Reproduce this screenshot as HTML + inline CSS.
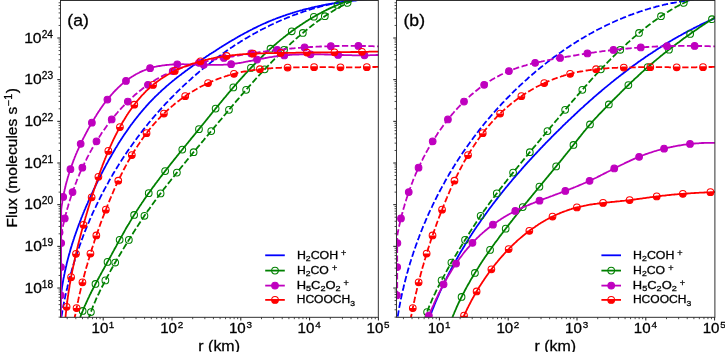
<!DOCTYPE html><html><head><meta charset="utf-8"><style>html,body{margin:0;padding:0;background:#fff;}svg{display:block;}#w{will-change:transform;width:725px;height:352px;}</style></head><body>
<div id="w"><svg width="725" height="352" viewBox="0 0 725 352">
<rect width="725" height="352" fill="#fff"/>
<clipPath id="ca"><rect x="60.50" y="0.50" width="317.80" height="316.80"/></clipPath>
<g clip-path="url(#ca)">
<path d="M59.3,321.9 L59.4,320.7 L59.4,319.5 L59.4,318.3 L59.4,317.1 L59.4,315.9 L59.5,314.7 L59.5,313.5 L59.6,312.3 L59.6,311.1 L59.7,309.9 L59.8,308.7 L59.9,307.6 L59.9,306.4 L60.0,305.2 L60.1,304.0 L60.2,302.8 L60.3,301.6 L60.4,300.4 L60.6,299.2 L60.7,298.0 L60.8,296.9 L60.9,295.7 L61.1,294.5 L61.2,293.3 L61.4,292.1 L61.5,290.9 L61.7,289.8 L61.9,288.6 L62.0,287.4 L62.2,286.2 L62.4,285.1 L62.6,283.9 L62.8,282.7 L63.0,281.5 L63.2,280.4 L63.4,279.2 L63.6,278.0 L63.9,276.9 L64.1,275.7 L64.3,274.5 L64.6,273.4 L64.8,272.2 L65.0,271.0 L65.3,269.9 L65.6,268.7 L65.8,267.5 L66.1,266.4 L66.4,265.2 L66.6,264.1 L66.9,262.9 L67.2,261.7 L67.5,260.6 L67.8,259.4 L68.1,258.3 L68.4,257.1 L68.7,256.0 L69.0,254.8 L69.3,253.7 L69.7,252.5 L70.0,251.4 L70.3,250.2 L70.6,249.1 L71.0,247.9 L71.3,246.8 L71.7,245.6 L72.0,244.5 L72.4,243.4 L72.7,242.2 L73.1,241.1 L73.5,239.9 L73.9,238.8 L74.2,237.7 L74.6,236.5 L75.0,235.4 L75.4,234.3 L75.8,233.1 L76.2,232.0 L76.6,230.9 L77.0,229.7 L77.4,228.6 L77.8,227.5 L78.2,226.4 L78.6,225.2 L79.0,224.1 L79.5,223.0 L79.9,221.9 L80.3,220.8 L80.8,219.6 L81.2,218.5 L81.6,217.4 L82.1,216.3 L82.5,215.2 L83.0,214.0 L83.4,212.9 L83.9,211.8 L84.3,210.7 L84.8,209.6 L85.3,208.5 L85.7,207.4 L86.2,206.3 L86.7,205.2 L87.2,204.1 L87.7,203.0 L88.1,201.9 L88.6,200.8 L89.1,199.7 L89.6,198.6 L90.1,197.5 L90.6,196.4 L91.1,195.3 L91.6,194.2 L92.1,193.1 L92.6,192.0 L93.1,190.9 L93.6,189.8 L94.1,188.7 L94.7,187.6 L95.2,186.5 L95.7,185.5 L96.2,184.4 L96.7,183.3 L97.3,182.2 L97.8,181.1 L98.3,180.1 L98.9,179.0 L99.4,177.9 L100.0,176.8 L100.5,175.7 L101.0,174.7 L101.6,173.6 L102.1,172.5 L102.7,171.5 L103.2,170.4 L103.8,169.3 L104.4,168.3 L104.9,167.2 L105.5,166.1 L106.0,165.1 L106.6,164.0 L107.2,163.0 L107.8,161.9 L108.3,160.9 L108.9,159.8 L109.5,158.8 L110.1,157.7 L110.7,156.7 L111.3,155.7 L111.9,154.6 L112.5,153.6 L113.1,152.5 L113.7,151.5 L114.3,150.5 L114.9,149.5 L115.5,148.4 L116.1,147.4 L116.8,146.4 L117.4,145.4 L118.0,144.4 L118.6,143.3 L119.3,142.3 L119.9,141.3 L120.6,140.3 L121.2,139.3 L121.9,138.3 L122.5,137.3 L123.2,136.3 L123.8,135.3 L124.5,134.3 L125.2,133.4 L125.8,132.4 L126.5,131.4 L127.2,130.4 L127.9,129.5 L128.5,128.5 L129.2,127.5 L129.9,126.6 L130.6,125.6 L131.3,124.6 L132.0,123.7 L132.7,122.7 L133.5,121.8 L134.2,120.8 L134.9,119.9 L135.6,119.0 L136.4,118.0 L137.1,117.1 L137.8,116.2 L138.6,115.2 L139.3,114.3 L140.1,113.4 L140.8,112.5 L141.6,111.6 L142.4,110.7 L143.1,109.8 L143.9,108.9 L144.7,108.0 L145.5,107.1 L146.2,106.2 L147.0,105.3 L147.8,104.5 L148.6,103.6 L149.4,102.7 L150.2,101.9 L151.1,101.0 L151.9,100.1 L152.7,99.3 L153.5,98.4 L154.4,97.6 L155.2,96.7 L156.1,95.9 L156.9,95.1 L157.8,94.3 L158.6,93.4 L159.5,92.6 L160.4,91.8 L161.2,91.0 L162.1,90.2 L163.0,89.4 L163.9,88.6 L164.8,87.8 L165.7,87.0 L166.6,86.2 L167.5,85.4 L168.4,84.7 L169.3,83.9 L170.2,83.1 L171.1,82.4 L172.0,81.6 L173.0,80.8 L173.9,80.1 L174.8,79.3 L175.8,78.6 L176.7,77.8 L177.7,77.1 L178.6,76.4 L179.6,75.6 L180.5,74.9 L181.5,74.2 L182.4,73.4 L183.4,72.7 L184.4,72.0 L185.3,71.3 L186.3,70.6 L187.3,69.9 L188.2,69.1 L189.2,68.4 L190.2,67.7 L191.2,67.0 L192.2,66.3 L193.1,65.6 L194.1,64.9 L195.1,64.3 L196.1,63.6 L197.1,62.9 L198.1,62.2 L199.1,61.5 L200.1,60.8 L201.1,60.2 L202.1,59.5 L203.1,58.8 L204.1,58.1 L205.1,57.5 L206.1,56.8 L207.1,56.1 L208.1,55.5 L209.1,54.8 L210.1,54.1 L211.1,53.5 L212.2,52.8 L213.2,52.2 L214.2,51.5 L215.2,50.9 L216.2,50.2 L217.2,49.6 L218.2,48.9 L219.2,48.3 L220.3,47.6 L221.3,47.0 L222.3,46.3 L223.3,45.7 L224.3,45.1 L225.4,44.4 L226.4,43.8 L227.4,43.2 L228.4,42.6 L229.4,41.9 L230.5,41.3 L231.5,40.7 L232.5,40.1 L233.6,39.5 L234.6,38.9 L235.6,38.3 L236.7,37.7 L237.7,37.1 L238.7,36.5 L239.8,35.9 L240.8,35.3 L241.9,34.8 L242.9,34.2 L244.0,33.6 L245.0,33.0 L246.1,32.5 L247.1,31.9 L248.2,31.4 L249.2,30.8 L250.3,30.3 L251.3,29.7 L252.4,29.2 L253.4,28.6 L254.5,28.1 L255.6,27.6 L256.6,27.1 L257.7,26.5 L258.8,26.0 L259.9,25.5 L260.9,25.0 L262.0,24.5 L263.1,24.0 L264.2,23.5 L265.3,23.1 L266.3,22.6 L267.4,22.1 L268.5,21.6 L269.6,21.2 L270.7,20.7 L271.8,20.3 L272.9,19.8 L274.0,19.4 L275.1,19.0 L276.2,18.5 L277.3,18.1 L278.5,17.7 L279.6,17.3 L280.7,16.9 L281.8,16.5 L282.9,16.1 L284.0,15.7 L285.2,15.3 L286.3,14.9 L287.4,14.5 L288.6,14.1 L289.7,13.8 L290.8,13.4 L292.0,13.1 L293.1,12.7 L294.2,12.4 L295.4,12.0 L296.5,11.7 L297.7,11.3 L298.8,11.0 L300.0,10.7 L301.1,10.4 L302.3,10.1 L303.4,9.7 L304.6,9.4 L305.7,9.1 L306.9,8.8 L308.0,8.6 L309.2,8.3 L310.4,8.0 L311.5,7.7 L312.7,7.4 L313.8,7.2 L315.0,6.9 L316.2,6.6 L317.4,6.4 L318.5,6.1 L319.7,5.9 L320.9,5.7 L322.0,5.4 L323.2,5.2 L324.4,5.0 L325.6,4.7 L326.8,4.5 L327.9,4.3 L329.1,4.1 L330.3,3.9 L331.5,3.7 L332.7,3.5 L333.9,3.3 L335.0,3.1 L336.2,2.9 L337.4,2.7 L338.6,2.5 L339.8,2.4 L341.0,2.2 L342.2,2.0 L343.4,1.9 L344.6,1.7 L345.8,1.6 L347.0,1.4 L348.1,1.3 L349.3,1.1 L350.5,1.0 L351.7,0.8 L352.9,0.7 L354.1,0.6 L355.3,0.5 L356.5,0.3 L357.7,0.2 L358.9,0.1 L360.1,0.0 L361.3,-0.1 L362.5,-0.2 L363.7,-0.3 L364.9,-0.4 L366.1,-0.5" fill="none" stroke="#0000ff" stroke-width="1.8" stroke-linejoin="round" stroke-linecap="square"/>
<path d="M61.5,316.6 L61.7,315.4 L61.9,314.3 L62.1,313.1 L62.3,311.9 L62.5,310.7 L62.7,309.5 L62.9,308.3 L63.1,307.2 L63.3,306.0 L63.6,304.8 L63.8,303.6 L64.0,302.4 L64.3,301.3 L64.5,300.1 L64.7,298.9 L65.0,297.7 L65.2,296.6 L65.5,295.4 L65.7,294.2 L66.0,293.1 L66.3,291.9 L66.5,290.7 L66.8,289.5 L67.1,288.4 L67.4,287.2 L67.6,286.0 L67.9,284.9 L68.2,283.7 L68.5,282.5 L68.8,281.4 L69.1,280.2 L69.4,279.1 L69.7,277.9 L70.0,276.7 L70.3,275.6 L70.6,274.4 L70.9,273.3 L71.3,272.1 L71.6,271.0 L71.9,269.8 L72.2,268.7 L72.6,267.5 L72.9,266.4 L73.3,265.2 L73.6,264.1 L73.9,262.9 L74.3,261.8 L74.7,260.6 L75.0,259.5 L75.4,258.3 L75.7,257.2 L76.1,256.1 L76.5,254.9 L76.9,253.8 L77.2,252.6 L77.6,251.5 L78.0,250.4 L78.4,249.2 L78.8,248.1 L79.2,247.0 L79.6,245.8 L80.0,244.7 L80.4,243.6 L80.8,242.5 L81.2,241.3 L81.6,240.2 L82.0,239.1 L82.5,238.0 L82.9,236.8 L83.3,235.7 L83.7,234.6 L84.2,233.5 L84.6,232.4 L85.0,231.3 L85.5,230.1 L85.9,229.0 L86.4,227.9 L86.8,226.8 L87.3,225.7 L87.8,224.6 L88.2,223.5 L88.7,222.4 L89.2,221.3 L89.6,220.2 L90.1,219.1 L90.6,218.0 L91.1,216.9 L91.6,215.8 L92.0,214.7 L92.5,213.6 L93.0,212.5 L93.5,211.4 L94.0,210.4 L94.5,209.3 L95.0,208.2 L95.6,207.1 L96.1,206.0 L96.6,204.9 L97.1,203.9 L97.6,202.8 L98.2,201.7 L98.7,200.6 L99.2,199.6 L99.8,198.5 L100.3,197.4 L100.8,196.4 L101.4,195.3 L101.9,194.2 L102.5,193.2 L103.0,192.1 L103.6,191.0 L104.2,190.0 L104.7,188.9 L105.3,187.9 L105.9,186.8 L106.4,185.8 L107.0,184.7 L107.6,183.7 L108.2,182.6 L108.7,181.6 L109.3,180.5 L109.9,179.5 L110.5,178.5 L111.1,177.4 L111.7,176.4 L112.3,175.4 L112.9,174.3 L113.5,173.3 L114.1,172.3 L114.8,171.2 L115.4,170.2 L116.0,169.2 L116.6,168.2 L117.3,167.1 L117.9,166.1 L118.5,165.1 L119.2,164.1 L119.8,163.1 L120.4,162.1 L121.1,161.1 L121.7,160.1 L122.4,159.1 L123.0,158.1 L123.7,157.1 L124.3,156.1 L125.0,155.1 L125.7,154.1 L126.3,153.1 L127.0,152.1 L127.7,151.1 L128.4,150.1 L129.0,149.1 L129.7,148.1 L130.4,147.2 L131.1,146.2 L131.8,145.2 L132.5,144.2 L133.2,143.3 L133.9,142.3 L134.6,141.3 L135.3,140.4 L136.0,139.4 L136.7,138.4 L137.4,137.5 L138.1,136.5 L138.9,135.6 L139.6,134.6 L140.3,133.7 L141.0,132.7 L141.8,131.8 L142.5,130.8 L143.2,129.9 L144.0,128.9 L144.7,128.0 L145.5,127.1 L146.2,126.1 L147.0,125.2 L147.7,124.3 L148.5,123.3 L149.2,122.4 L150.0,121.5 L150.8,120.6 L151.5,119.7 L152.3,118.7 L153.1,117.8 L153.9,116.9 L154.6,116.0 L155.4,115.1 L156.2,114.2 L157.0,113.3 L157.8,112.4 L158.6,111.5 L159.4,110.6 L160.2,109.7 L161.0,108.8 L161.8,107.9 L162.6,107.1 L163.4,106.2 L164.2,105.3 L165.0,104.4 L165.8,103.5 L166.6,102.7 L167.5,101.8 L168.3,100.9 L169.1,100.1 L169.9,99.2 L170.8,98.3 L171.6,97.5 L172.5,96.6 L173.3,95.8 L174.1,94.9 L175.0,94.1 L175.8,93.2 L176.7,92.4 L177.5,91.5 L178.4,90.7 L179.3,89.9 L180.1,89.0 L181.0,88.2 L181.8,87.4 L182.7,86.6 L183.6,85.7 L184.5,84.9 L185.3,84.1 L186.2,83.3 L187.1,82.5 L188.0,81.7 L188.9,80.9 L189.8,80.1 L190.7,79.3 L191.5,78.5 L192.4,77.7 L193.3,76.9 L194.2,76.1 L195.2,75.3 L196.1,74.5 L197.0,73.7 L197.9,73.0 L198.8,72.2 L199.7,71.4 L200.6,70.7 L201.6,69.9 L202.5,69.1 L203.4,68.4 L204.3,67.6 L205.3,66.8 L206.2,66.1 L207.1,65.3 L208.1,64.6 L209.0,63.9 L210.0,63.1 L210.9,62.4 L211.9,61.6 L212.8,60.9 L213.8,60.2 L214.7,59.5 L215.7,58.7 L216.7,58.0 L217.6,57.3 L218.6,56.6 L219.6,55.9 L220.5,55.2 L221.5,54.5 L222.5,53.8 L223.5,53.1 L224.4,52.4 L225.4,51.7 L226.4,51.0 L227.4,50.3 L228.4,49.6 L229.4,49.0 L230.4,48.3 L231.4,47.6 L232.4,47.0 L233.4,46.3 L234.4,45.6 L235.4,45.0 L236.4,44.3 L237.4,43.7 L238.4,43.0 L239.4,42.4 L240.4,41.8 L241.4,41.1 L242.5,40.5 L243.5,39.9 L244.5,39.3 L245.5,38.6 L246.6,38.0 L247.6,37.4 L248.6,36.8 L249.7,36.2 L250.7,35.6 L251.7,35.0 L252.8,34.4 L253.8,33.8 L254.9,33.3 L255.9,32.7 L257.0,32.1 L258.0,31.5 L259.1,31.0 L260.1,30.4 L261.2,29.8 L262.3,29.3 L263.3,28.7 L264.4,28.2 L265.4,27.7 L266.5,27.1 L267.6,26.6 L268.7,26.1 L269.7,25.5 L270.8,25.0 L271.9,24.5 L273.0,24.0 L274.0,23.5 L275.1,23.0 L276.2,22.5 L277.3,22.0 L278.4,21.5 L279.5,21.0 L280.6,20.5 L281.7,20.0 L282.8,19.6 L283.9,19.1 L285.0,18.7 L286.1,18.2 L287.2,17.7 L288.3,17.3 L289.4,16.9 L290.5,16.4 L291.6,16.0 L292.7,15.5 L293.8,15.1 L294.9,14.7 L296.1,14.3 L297.2,13.9 L298.3,13.5 L299.4,13.1 L300.5,12.7 L301.7,12.3 L302.8,11.9 L303.9,11.5 L305.1,11.2 L306.2,10.8 L307.3,10.4 L308.5,10.1 L309.6,9.7 L310.7,9.4 L311.9,9.0 L313.0,8.7 L314.2,8.3 L315.3,8.0 L316.5,7.7 L317.6,7.4 L318.8,7.1 L319.9,6.7 L321.1,6.4 L322.2,6.2 L323.4,5.9 L324.5,5.6 L325.7,5.3 L326.9,5.0 L328.0,4.7 L329.2,4.5 L330.4,4.2 L331.5,4.0 L332.7,3.7 L333.9,3.5 L335.0,3.2 L336.2,3.0 L337.4,2.8 L338.6,2.6 L339.7,2.4 L340.9,2.1 L342.1,1.9 L343.3,1.7 L344.5,1.6 L345.7,1.4 L346.8,1.2 L348.0,1.0 L349.2,0.9 L350.4,0.7 L351.6,0.5 L352.8,0.4 L354.0,0.2 L355.2,0.1 L356.4,-0.0 L357.6,-0.2 L358.8,-0.3 L360.0,-0.4 L361.2,-0.5 L362.4,-0.6 L363.6,-0.7 L364.8,-0.8 L366.0,-0.9" fill="none" stroke="#0000ff" stroke-width="1.8" stroke-linejoin="round" stroke-linecap="butt" stroke-dasharray="6.3 2.5"/>
<path d="M79.3,320.0 L79.7,318.8 L80.1,317.7 L80.5,316.6 L80.9,315.4 L81.3,314.3 L81.8,313.2 L82.2,312.1 L82.7,311.0 L83.1,309.9 L83.6,308.7 L84.0,307.6 L84.5,306.5 L85.0,305.4 L85.5,304.4 L86.0,303.3 L86.5,302.2 L87.0,301.1 L87.5,300.0 L88.0,298.9 L88.5,297.8 L89.0,296.8 L89.5,295.7 L90.0,294.6 L90.6,293.5 L91.1,292.5 L91.6,291.4 L92.2,290.3 L92.7,289.3 L93.3,288.2 L93.8,287.2 L94.4,286.1 L94.9,285.0 L95.5,284.0 L96.0,282.9 L96.6,281.9 L97.2,280.8 L97.7,279.8 L98.3,278.7 L98.9,277.7 L99.4,276.6 L100.0,275.6 L100.6,274.5 L101.2,273.5 L101.7,272.4 L102.3,271.4 L102.9,270.3 L103.5,269.3 L104.1,268.2 L104.6,267.2 L105.2,266.1 L105.8,265.1 L106.4,264.0 L106.9,263.0 L107.5,261.9 L108.1,260.9 L108.7,259.8 L109.3,258.8 L109.8,257.7 L110.4,256.7 L111.0,255.6 L111.6,254.6 L112.1,253.5 L112.7,252.5 L113.3,251.4 L113.9,250.4 L114.4,249.3 L115.0,248.2 L115.6,247.2 L116.2,246.1 L116.7,245.1 L117.3,244.0 L117.9,243.0 L118.5,241.9 L119.1,240.9 L119.6,239.8 L120.2,238.8 L120.8,237.7 L121.4,236.7 L122.0,235.6 L122.6,234.6 L123.2,233.5 L123.8,232.5 L124.4,231.5 L124.9,230.4 L125.5,229.4 L126.1,228.3 L126.7,227.3 L127.3,226.3 L127.9,225.2 L128.6,224.2 L129.2,223.2 L129.8,222.1 L130.4,221.1 L131.0,220.1 L131.6,219.0 L132.2,218.0 L132.9,217.0 L133.5,216.0 L134.1,215.0 L134.8,214.0 L135.4,212.9 L136.0,211.9 L136.7,210.9 L137.3,209.9 L138.0,208.9 L138.6,207.9 L139.3,206.9 L139.9,205.9 L140.6,204.9 L141.3,203.9 L141.9,202.9 L142.6,202.0 L143.3,201.0 L143.9,200.0 L144.6,199.0 L145.3,198.0 L146.0,197.0 L146.7,196.1 L147.3,195.1 L148.0,194.1 L148.7,193.1 L149.4,192.2 L150.1,191.2 L150.8,190.2 L151.5,189.3 L152.2,188.3 L152.9,187.3 L153.6,186.4 L154.3,185.4 L155.0,184.4 L155.7,183.5 L156.5,182.5 L157.2,181.6 L157.9,180.6 L158.6,179.7 L159.3,178.7 L160.0,177.8 L160.8,176.8 L161.5,175.9 L162.2,174.9 L162.9,174.0 L163.7,173.0 L164.4,172.1 L165.1,171.1 L165.9,170.2 L166.6,169.2 L167.3,168.3 L168.1,167.4 L168.8,166.4 L169.6,165.5 L170.3,164.5 L171.0,163.6 L171.8,162.7 L172.5,161.7 L173.3,160.8 L174.0,159.9 L174.8,158.9 L175.5,158.0 L176.3,157.1 L177.0,156.1 L177.8,155.2 L178.5,154.3 L179.3,153.3 L180.0,152.4 L180.8,151.5 L181.5,150.5 L182.3,149.6 L183.0,148.7 L183.8,147.7 L184.6,146.8 L185.3,145.9 L186.1,145.0 L186.8,144.0 L187.6,143.1 L188.3,142.2 L189.1,141.2 L189.9,140.3 L190.6,139.4 L191.4,138.4 L192.1,137.5 L192.9,136.6 L193.7,135.7 L194.4,134.7 L195.2,133.8 L195.9,132.9 L196.7,131.9 L197.5,131.0 L198.2,130.1 L199.0,129.1 L199.7,128.2 L200.5,127.3 L201.2,126.3 L202.0,125.4 L202.8,124.5 L203.5,123.5 L204.3,122.6 L205.0,121.7 L205.8,120.7 L206.5,119.8 L207.3,118.9 L208.0,117.9 L208.8,117.0 L209.6,116.1 L210.3,115.1 L211.1,114.2 L211.8,113.3 L212.6,112.3 L213.3,111.4 L214.1,110.5 L214.9,109.6 L215.6,108.6 L216.4,107.7 L217.1,106.8 L217.9,105.8 L218.7,104.9 L219.4,104.0 L220.2,103.0 L221.0,102.1 L221.7,101.2 L222.5,100.3 L223.3,99.3 L224.0,98.4 L224.8,97.5 L225.6,96.6 L226.3,95.7 L227.1,94.7 L227.9,93.8 L228.6,92.9 L229.4,92.0 L230.2,91.1 L231.0,90.2 L231.8,89.3 L232.5,88.3 L233.3,87.4 L234.1,86.5 L234.9,85.6 L235.7,84.7 L236.5,83.8 L237.2,82.9 L238.0,82.0 L238.8,81.1 L239.6,80.2 L240.4,79.3 L241.2,78.4 L242.0,77.6 L242.8,76.7 L243.6,75.8 L244.4,74.9 L245.2,74.0 L246.0,73.1 L246.8,72.3 L247.7,71.4 L248.5,70.5 L249.3,69.6 L250.1,68.8 L250.9,67.9 L251.8,67.0 L252.6,66.2 L253.4,65.3 L254.2,64.5 L255.1,63.6 L255.9,62.7 L256.7,61.9 L257.6,61.1 L258.4,60.2 L259.3,59.4 L260.1,58.5 L261.0,57.7 L261.8,56.9 L262.7,56.0 L263.5,55.2 L264.4,54.4 L265.3,53.6 L266.1,52.7 L267.0,51.9 L267.9,51.1 L268.7,50.3 L269.6,49.5 L270.5,48.7 L271.4,47.9 L272.3,47.1 L273.2,46.3 L274.1,45.5 L275.0,44.7 L275.9,44.0 L276.8,43.2 L277.7,42.4 L278.6,41.6 L279.5,40.9 L280.4,40.1 L281.3,39.4 L282.3,38.6 L283.2,37.9 L284.1,37.1 L285.1,36.4 L286.0,35.6 L286.9,34.9 L287.9,34.2 L288.8,33.4 L289.8,32.7 L290.8,32.0 L291.7,31.3 L292.7,30.6 L293.7,29.9 L294.6,29.2 L295.6,28.5 L296.6,27.8 L297.6,27.1 L298.6,26.4 L299.6,25.7 L300.6,25.0 L301.6,24.4 L302.6,23.7 L303.6,23.1 L304.6,22.4 L305.6,21.8 L306.6,21.1 L307.7,20.5 L308.7,19.8 L309.7,19.2 L310.7,18.6 L311.8,18.0 L312.8,17.4 L313.9,16.8 L314.9,16.2 L315.9,15.6 L317.0,15.0 L318.1,14.4 L319.1,13.8 L320.2,13.2 L321.2,12.7 L322.3,12.1 L323.4,11.6 L324.4,11.0 L325.5,10.5 L326.6,9.9 L327.7,9.4 L328.7,8.9 L329.8,8.4 L330.9,7.9 L332.0,7.4 L333.1,6.9 L334.2,6.4 L335.3,5.9 L336.4,5.4 L337.5,5.0 L338.6,4.5 L339.7,4.0 L340.8,3.6 L341.9,3.2 L343.0,2.7 L344.2,2.3 L345.3,1.9 L346.4,1.5 L347.5,1.1 L348.6,0.7 L349.8,0.3 L350.9,-0.1 L352.0,-0.5 L353.2,-0.8 L354.3,-1.2 L355.4,-1.5 L356.6,-1.9 L357.7,-2.2 L358.9,-2.5 L360.0,-2.9" fill="none" stroke="#008000" stroke-width="1.8" stroke-linejoin="round" stroke-linecap="square"/>
<circle cx="82.66" cy="310.96" r="3.35" fill="none" stroke="#008000" stroke-width="1.05"/>
<circle cx="95.47" cy="283.98" r="3.35" fill="none" stroke="#008000" stroke-width="1.05"/>
<circle cx="107.53" cy="261.93" r="3.35" fill="none" stroke="#008000" stroke-width="1.05"/>
<circle cx="119.65" cy="239.83" r="3.35" fill="none" stroke="#008000" stroke-width="1.05"/>
<circle cx="134.13" cy="214.97" r="3.35" fill="none" stroke="#008000" stroke-width="1.05"/>
<circle cx="148.72" cy="193.13" r="3.35" fill="none" stroke="#008000" stroke-width="1.05"/>
<circle cx="165.14" cy="171.12" r="3.35" fill="none" stroke="#008000" stroke-width="1.05"/>
<circle cx="182.29" cy="149.60" r="3.35" fill="none" stroke="#008000" stroke-width="1.05"/>
<circle cx="198.97" cy="129.14" r="3.35" fill="none" stroke="#008000" stroke-width="1.05"/>
<circle cx="215.62" cy="108.62" r="3.35" fill="none" stroke="#008000" stroke-width="1.05"/>
<circle cx="233.32" cy="87.44" r="3.35" fill="none" stroke="#008000" stroke-width="1.05"/>
<circle cx="250.93" cy="67.90" r="3.35" fill="none" stroke="#008000" stroke-width="1.05"/>
<circle cx="270.50" cy="48.70" r="3.35" fill="none" stroke="#008000" stroke-width="1.05"/>
<circle cx="291.73" cy="31.27" r="3.35" fill="none" stroke="#008000" stroke-width="1.05"/>
<circle cx="313.85" cy="16.75" r="3.35" fill="none" stroke="#008000" stroke-width="1.05"/>
<circle cx="337.50" cy="4.95" r="3.35" fill="none" stroke="#008000" stroke-width="1.05"/>
<path d="M88.2,319.9 L88.6,318.8 L89.0,317.7 L89.3,316.5 L89.7,315.4 L90.1,314.3 L90.5,313.1 L90.9,312.0 L91.3,310.9 L91.7,309.8 L92.2,308.6 L92.6,307.5 L93.0,306.4 L93.5,305.3 L94.0,304.2 L94.4,303.1 L94.9,302.0 L95.4,300.9 L95.8,299.8 L96.3,298.7 L96.8,297.6 L97.3,296.5 L97.8,295.4 L98.4,294.3 L98.9,293.3 L99.4,292.2 L99.9,291.1 L100.4,290.0 L101.0,288.9 L101.5,287.9 L102.1,286.8 L102.6,285.7 L103.2,284.7 L103.7,283.6 L104.3,282.5 L104.8,281.5 L105.4,280.4 L105.9,279.3 L106.5,278.3 L107.1,277.2 L107.6,276.1 L108.2,275.1 L108.8,274.0 L109.3,273.0 L109.9,271.9 L110.5,270.9 L111.1,269.8 L111.7,268.8 L112.2,267.7 L112.8,266.7 L113.4,265.6 L114.0,264.6 L114.6,263.5 L115.2,262.5 L115.8,261.5 L116.4,260.4 L117.0,259.4 L117.6,258.4 L118.2,257.3 L118.8,256.3 L119.5,255.3 L120.1,254.2 L120.7,253.2 L121.3,252.2 L121.9,251.2 L122.6,250.1 L123.2,249.1 L123.8,248.1 L124.4,247.1 L125.1,246.1 L125.7,245.0 L126.3,244.0 L126.9,243.0 L127.6,242.0 L128.2,241.0 L128.8,239.9 L129.5,238.9 L130.1,237.9 L130.7,236.9 L131.4,235.9 L132.0,234.9 L132.7,233.8 L133.3,232.8 L133.9,231.8 L134.6,230.8 L135.2,229.8 L135.9,228.8 L136.5,227.8 L137.2,226.8 L137.8,225.8 L138.5,224.8 L139.1,223.8 L139.8,222.7 L140.4,221.7 L141.1,220.7 L141.8,219.7 L142.4,218.8 L143.1,217.8 L143.8,216.8 L144.4,215.8 L145.1,214.8 L145.8,213.8 L146.5,212.8 L147.2,211.8 L147.8,210.8 L148.5,209.9 L149.2,208.9 L149.9,207.9 L150.6,206.9 L151.3,205.9 L152.0,205.0 L152.7,204.0 L153.4,203.0 L154.1,202.1 L154.8,201.1 L155.6,200.1 L156.3,199.2 L157.0,198.2 L157.7,197.2 L158.4,196.3 L159.1,195.3 L159.9,194.3 L160.6,193.4 L161.3,192.4 L162.0,191.5 L162.8,190.5 L163.5,189.6 L164.2,188.6 L165.0,187.7 L165.7,186.7 L166.4,185.8 L167.2,184.8 L167.9,183.9 L168.7,182.9 L169.4,182.0 L170.2,181.1 L170.9,180.1 L171.6,179.2 L172.4,178.2 L173.1,177.3 L173.9,176.4 L174.6,175.4 L175.4,174.5 L176.1,173.6 L176.9,172.6 L177.6,171.7 L178.4,170.8 L179.2,169.8 L179.9,168.9 L180.7,168.0 L181.4,167.0 L182.2,166.1 L182.9,165.2 L183.7,164.2 L184.5,163.3 L185.2,162.4 L186.0,161.5 L186.7,160.5 L187.5,159.6 L188.3,158.7 L189.0,157.8 L189.8,156.8 L190.6,155.9 L191.3,155.0 L192.1,154.1 L192.8,153.1 L193.6,152.2 L194.4,151.3 L195.1,150.4 L195.9,149.5 L196.7,148.5 L197.4,147.6 L198.2,146.7 L199.0,145.8 L199.7,144.9 L200.5,143.9 L201.3,143.0 L202.0,142.1 L202.8,141.2 L203.6,140.3 L204.3,139.3 L205.1,138.4 L205.9,137.5 L206.7,136.6 L207.4,135.7 L208.2,134.7 L209.0,133.8 L209.7,132.9 L210.5,132.0 L211.3,131.1 L212.0,130.1 L212.8,129.2 L213.6,128.3 L214.3,127.4 L215.1,126.4 L215.9,125.5 L216.6,124.6 L217.4,123.7 L218.2,122.8 L218.9,121.8 L219.7,120.9 L220.5,120.0 L221.3,119.1 L222.0,118.2 L222.8,117.2 L223.6,116.3 L224.3,115.4 L225.1,114.5 L225.9,113.5 L226.6,112.6 L227.4,111.7 L228.2,110.8 L229.0,109.9 L229.7,108.9 L230.5,108.0 L231.3,107.1 L232.1,106.2 L232.8,105.3 L233.6,104.4 L234.4,103.4 L235.2,102.5 L235.9,101.6 L236.7,100.7 L237.5,99.8 L238.3,98.9 L239.1,98.0 L239.8,97.1 L240.6,96.1 L241.4,95.2 L242.2,94.3 L243.0,93.4 L243.8,92.5 L244.6,91.6 L245.3,90.7 L246.1,89.8 L246.9,88.9 L247.7,88.0 L248.5,87.1 L249.3,86.2 L250.1,85.3 L250.9,84.4 L251.7,83.5 L252.5,82.6 L253.3,81.7 L254.1,80.8 L254.9,79.9 L255.7,79.0 L256.5,78.1 L257.3,77.3 L258.1,76.4 L258.9,75.5 L259.7,74.6 L260.6,73.7 L261.4,72.8 L262.2,72.0 L263.0,71.1 L263.8,70.2 L264.7,69.3 L265.5,68.5 L266.3,67.6 L267.1,66.7 L268.0,65.9 L268.8,65.0 L269.6,64.1 L270.5,63.3 L271.3,62.4 L272.1,61.6 L273.0,60.7 L273.8,59.9 L274.6,59.0 L275.5,58.2 L276.3,57.3 L277.2,56.5 L278.0,55.6 L278.9,54.8 L279.7,53.9 L280.6,53.1 L281.5,52.3 L282.3,51.4 L283.2,50.6 L284.1,49.8 L284.9,49.0 L285.8,48.1 L286.7,47.3 L287.5,46.5 L288.4,45.7 L289.3,44.9 L290.2,44.1 L291.1,43.2 L292.0,42.4 L292.9,41.6 L293.7,40.8 L294.6,40.0 L295.5,39.2 L296.4,38.4 L297.3,37.7 L298.2,36.9 L299.2,36.1 L300.1,35.3 L301.0,34.5 L301.9,33.7 L302.8,33.0 L303.7,32.2 L304.7,31.4 L305.6,30.7 L306.5,29.9 L307.5,29.2 L308.4,28.4 L309.3,27.6 L310.3,26.9 L311.2,26.2 L312.2,25.4 L313.1,24.7 L314.1,24.0 L315.0,23.2 L316.0,22.5 L317.0,21.8 L317.9,21.1 L318.9,20.4 L319.9,19.7 L320.9,19.0 L321.8,18.3 L322.8,17.6 L323.8,16.9 L324.8,16.2 L325.8,15.6 L326.8,14.9 L327.8,14.2 L328.8,13.6 L329.8,12.9 L330.8,12.3 L331.9,11.7 L332.9,11.0 L333.9,10.4 L334.9,9.8 L336.0,9.2 L337.0,8.6 L338.0,8.0 L339.1,7.4 L340.1,6.8 L341.2,6.3 L342.2,5.7 L343.3,5.1 L344.4,4.6 L345.4,4.0 L346.5,3.5 L347.6,3.0 L348.7,2.5 L349.8,2.0 L350.9,1.5 L351.9,1.0 L353.0,0.5 L354.2,0.0 L355.3,-0.4 L356.4,-0.9 L357.5,-1.3 L358.6,-1.8 L359.7,-2.2 L360.9,-2.6 L362.0,-3.0" fill="none" stroke="#008000" stroke-width="1.8" stroke-linejoin="round" stroke-linecap="butt" stroke-dasharray="6.3 2.5"/>
<circle cx="90.90" cy="312.00" r="3.35" fill="none" stroke="#008000" stroke-width="1.05"/>
<circle cx="105.37" cy="280.39" r="3.35" fill="none" stroke="#008000" stroke-width="1.05"/>
<circle cx="115.21" cy="262.51" r="3.35" fill="none" stroke="#008000" stroke-width="1.05"/>
<circle cx="128.84" cy="239.94" r="3.35" fill="none" stroke="#008000" stroke-width="1.05"/>
<circle cx="144.44" cy="215.77" r="3.35" fill="none" stroke="#008000" stroke-width="1.05"/>
<circle cx="160.59" cy="193.39" r="3.35" fill="none" stroke="#008000" stroke-width="1.05"/>
<circle cx="176.89" cy="172.62" r="3.35" fill="none" stroke="#008000" stroke-width="1.05"/>
<circle cx="193.61" cy="152.23" r="3.35" fill="none" stroke="#008000" stroke-width="1.05"/>
<circle cx="211.26" cy="131.06" r="3.35" fill="none" stroke="#008000" stroke-width="1.05"/>
<circle cx="228.96" cy="109.87" r="3.35" fill="none" stroke="#008000" stroke-width="1.05"/>
<circle cx="246.13" cy="89.80" r="3.35" fill="none" stroke="#008000" stroke-width="1.05"/>
<circle cx="264.65" cy="69.35" r="3.35" fill="none" stroke="#008000" stroke-width="1.05"/>
<circle cx="284.06" cy="49.78" r="3.35" fill="none" stroke="#008000" stroke-width="1.05"/>
<circle cx="302.82" cy="32.97" r="3.35" fill="none" stroke="#008000" stroke-width="1.05"/>
<circle cx="324.81" cy="16.23" r="3.35" fill="none" stroke="#008000" stroke-width="1.05"/>
<circle cx="347.59" cy="2.98" r="3.35" fill="none" stroke="#008000" stroke-width="1.05"/>
<path d="M61.0,322.0 L61.2,210.1 L61.3,208.9 L61.5,207.7 L61.6,206.5 L61.8,205.3 L62.0,204.1 L62.2,202.9 L62.3,201.7 L62.5,200.5 L62.8,199.3 L63.0,198.1 L63.2,196.9 L63.4,195.7 L63.6,194.5 L63.9,193.3 L64.1,192.2 L64.4,191.0 L64.6,189.8 L64.9,188.7 L65.2,187.5 L65.5,186.3 L65.7,185.2 L66.0,184.0 L66.3,182.9 L66.6,181.7 L67.0,180.5 L67.3,179.4 L67.6,178.3 L67.9,177.1 L68.3,176.0 L68.6,174.8 L69.0,173.7 L69.3,172.6 L69.7,171.4 L70.1,170.3 L70.4,169.2 L70.8,168.0 L71.2,166.9 L71.6,165.8 L72.0,164.7 L72.4,163.6 L72.8,162.5 L73.2,161.4 L73.6,160.2 L74.1,159.1 L74.5,158.0 L74.9,156.9 L75.4,155.8 L75.8,154.7 L76.3,153.6 L76.8,152.5 L77.2,151.4 L77.7,150.4 L78.2,149.3 L78.7,148.2 L79.2,147.1 L79.7,146.0 L80.2,144.9 L80.7,143.9 L81.2,142.8 L81.7,141.7 L82.2,140.6 L82.7,139.6 L83.3,138.5 L83.8,137.4 L84.4,136.4 L84.9,135.3 L85.5,134.2 L86.0,133.2 L86.6,132.1 L87.2,131.0 L87.7,130.0 L88.3,128.9 L88.9,127.9 L89.5,126.8 L90.1,125.8 L90.7,124.7 L91.3,123.7 L91.9,122.6 L92.5,121.6 L93.1,120.5 L93.7,119.5 L94.4,118.5 L95.0,117.4 L95.6,116.4 L96.3,115.4 L96.9,114.3 L97.6,113.3 L98.2,112.3 L98.9,111.3 L99.6,110.3 L100.2,109.3 L100.9,108.3 L101.6,107.3 L102.3,106.3 L103.0,105.3 L103.7,104.3 L104.5,103.3 L105.2,102.4 L105.9,101.4 L106.7,100.4 L107.4,99.5 L108.2,98.6 L108.9,97.6 L109.7,96.7 L110.5,95.8 L111.3,94.9 L112.1,94.0 L112.9,93.1 L113.7,92.2 L114.5,91.3 L115.3,90.5 L116.2,89.6 L117.0,88.8 L117.9,87.9 L118.7,87.1 L119.6,86.3 L120.5,85.5 L121.4,84.7 L122.3,83.9 L123.2,83.1 L124.1,82.4 L125.0,81.6 L126.0,80.9 L126.9,80.2 L127.9,79.5 L128.9,78.8 L129.8,78.1 L130.8,77.4 L131.8,76.8 L132.8,76.2 L133.9,75.5 L134.9,74.9 L135.9,74.3 L137.0,73.8 L138.0,73.2 L139.1,72.7 L140.1,72.1 L141.2,71.6 L142.3,71.1 L143.4,70.7 L144.5,70.2 L145.6,69.8 L146.7,69.3 L147.8,68.9 L149.0,68.6 L150.1,68.2 L151.2,67.9 L152.4,67.5 L153.5,67.2 L154.7,66.9 L155.8,66.7 L157.0,66.4 L158.2,66.2 L159.3,66.0 L160.5,65.8 L161.7,65.6 L162.9,65.4 L164.1,65.3 L165.2,65.1 L166.4,65.0 L167.6,64.9 L168.8,64.8 L170.0,64.7 L171.2,64.6 L172.4,64.5 L173.6,64.4 L174.8,64.4 L176.0,64.3 L177.2,64.3 L178.4,64.3 L179.6,64.3 L180.9,64.3 L182.1,64.2 L183.3,64.2 L184.5,64.3 L185.7,64.3 L186.9,64.3 L188.1,64.3 L189.3,64.3 L190.5,64.4 L191.7,64.4 L192.9,64.4 L194.1,64.5 L195.3,64.5 L196.5,64.5 L197.7,64.6 L198.9,64.6 L200.1,64.6 L201.3,64.7 L202.5,64.7 L203.7,64.8 L204.9,64.8 L206.1,64.8 L207.3,64.8 L208.5,64.9 L209.7,64.9 L210.9,64.9 L212.1,64.9 L213.3,64.9 L214.5,64.9 L215.7,64.9 L216.9,64.9 L218.1,64.9 L219.3,64.9 L220.5,64.8 L221.6,64.8 L222.8,64.8 L224.0,64.7 L225.2,64.6 L226.4,64.6 L227.6,64.5 L228.8,64.4 L229.9,64.3 L231.1,64.1 L232.3,64.0 L233.5,63.9 L234.7,63.7 L235.9,63.5 L237.0,63.4 L238.2,63.2 L239.4,63.0 L240.6,62.8 L241.7,62.6 L242.9,62.4 L244.1,62.1 L245.3,61.9 L246.4,61.7 L247.6,61.5 L248.8,61.2 L250.0,61.0 L251.1,60.8 L252.3,60.5 L253.5,60.3 L254.7,60.1 L255.8,59.8 L257.0,59.6 L258.2,59.4 L259.4,59.1 L260.6,58.9 L261.7,58.7 L262.9,58.5 L264.1,58.3 L265.3,58.0 L266.5,57.8 L267.6,57.6 L268.8,57.4 L270.0,57.2 L271.2,57.1 L272.4,56.9 L273.6,56.7 L274.7,56.5 L275.9,56.4 L277.1,56.2 L278.3,56.1 L279.5,55.9 L280.7,55.8 L281.9,55.6 L283.1,55.5 L284.2,55.4 L285.4,55.3 L286.6,55.2 L287.8,55.1 L289.0,55.0 L290.2,54.9 L291.4,54.8 L292.6,54.7 L293.8,54.7 L295.0,54.6 L296.2,54.5 L297.4,54.5 L298.6,54.5 L299.7,54.4 L300.9,54.4 L302.1,54.3 L303.3,54.3 L304.5,54.3 L305.7,54.3 L306.9,54.3 L308.1,54.3 L309.3,54.3 L310.5,54.3 L311.7,54.3 L312.9,54.3 L314.1,54.3 L315.3,54.3 L316.5,54.3 L317.7,54.3 L318.9,54.3 L320.1,54.4 L321.3,54.4 L322.5,54.4 L323.7,54.4 L324.9,54.5 L326.1,54.5 L327.3,54.5 L328.5,54.6 L329.7,54.6 L330.9,54.7 L332.1,54.7 L333.3,54.7 L334.5,54.8 L335.7,54.8 L336.9,54.8 L338.1,54.9 L339.3,54.9 L340.5,55.0 L341.7,55.0 L342.9,55.0 L344.1,55.1 L345.3,55.1 L346.5,55.1 L347.7,55.2 L348.9,55.2 L350.1,55.2 L351.3,55.2 L352.5,55.3 L353.7,55.3 L354.9,55.3 L356.1,55.3 L357.3,55.3 L358.5,55.3 L359.7,55.3 L360.9,55.4 L362.1,55.4 L363.3,55.4 L364.5,55.3 L365.7,55.3 L366.9,55.3 L368.1,55.3 L369.2,55.3 L370.4,55.2 L371.6,55.2 L372.8,55.2 L374.0,55.1 L375.2,55.1 L376.4,55.0 L377.6,55.0 L378.8,54.9 L380.0,54.8" fill="none" stroke="#bf00bf" stroke-width="1.8" stroke-linejoin="round" stroke-linecap="square"/>
<circle cx="59.60" cy="232.50" r="3.35" fill="#bf00bf" stroke="#bf00bf" stroke-width="1.05"/>
<circle cx="63.18" cy="196.90" r="3.35" fill="#bf00bf" stroke="#bf00bf" stroke-width="1.05"/>
<circle cx="70.43" cy="169.17" r="3.35" fill="#bf00bf" stroke="#bf00bf" stroke-width="1.05"/>
<circle cx="80.67" cy="143.86" r="3.35" fill="#bf00bf" stroke="#bf00bf" stroke-width="1.05"/>
<circle cx="91.88" cy="122.64" r="3.35" fill="#bf00bf" stroke="#bf00bf" stroke-width="1.05"/>
<circle cx="107.40" cy="99.50" r="3.35" fill="#bf00bf" stroke="#bf00bf" stroke-width="1.05"/>
<circle cx="125.97" cy="80.91" r="3.35" fill="#bf00bf" stroke="#bf00bf" stroke-width="1.05"/>
<circle cx="150.08" cy="68.19" r="3.35" fill="#bf00bf" stroke="#bf00bf" stroke-width="1.05"/>
<circle cx="177.24" cy="64.31" r="3.35" fill="#bf00bf" stroke="#bf00bf" stroke-width="1.05"/>
<circle cx="203.71" cy="64.75" r="3.35" fill="#bf00bf" stroke="#bf00bf" stroke-width="1.05"/>
<circle cx="231.13" cy="64.14" r="3.35" fill="#bf00bf" stroke="#bf00bf" stroke-width="1.05"/>
<circle cx="257.02" cy="59.59" r="3.35" fill="#bf00bf" stroke="#bf00bf" stroke-width="1.05"/>
<circle cx="284.25" cy="55.38" r="3.35" fill="#bf00bf" stroke="#bf00bf" stroke-width="1.05"/>
<circle cx="310.52" cy="54.26" r="3.35" fill="#bf00bf" stroke="#bf00bf" stroke-width="1.05"/>
<circle cx="338.11" cy="54.88" r="3.35" fill="#bf00bf" stroke="#bf00bf" stroke-width="1.05"/>
<circle cx="364.47" cy="55.34" r="3.35" fill="#bf00bf" stroke="#bf00bf" stroke-width="1.05"/>
<path d="M61.0,297.0 L61.0,236.0 L61.2,234.8 L61.4,233.6 L61.6,232.5 L61.9,231.3 L62.1,230.1 L62.4,228.9 L62.6,227.8 L62.9,226.6 L63.1,225.4 L63.4,224.2 L63.7,223.1 L63.9,221.9 L64.2,220.7 L64.5,219.6 L64.8,218.4 L65.1,217.2 L65.3,216.1 L65.6,214.9 L65.9,213.8 L66.3,212.6 L66.6,211.4 L66.9,210.3 L67.2,209.1 L67.5,208.0 L67.9,206.8 L68.2,205.7 L68.5,204.5 L68.9,203.4 L69.2,202.2 L69.6,201.1 L69.9,200.0 L70.3,198.8 L70.6,197.7 L71.0,196.6 L71.4,195.4 L71.8,194.3 L72.2,193.2 L72.5,192.0 L72.9,190.9 L73.3,189.8 L73.7,188.7 L74.2,187.5 L74.6,186.4 L75.0,185.3 L75.4,184.2 L75.8,183.1 L76.3,182.0 L76.7,180.8 L77.1,179.7 L77.6,178.6 L78.0,177.5 L78.5,176.4 L79.0,175.3 L79.4,174.2 L79.9,173.1 L80.4,172.0 L80.9,170.9 L81.4,169.8 L81.8,168.8 L82.3,167.7 L82.8,166.6 L83.4,165.5 L83.9,164.4 L84.4,163.4 L84.9,162.3 L85.4,161.2 L86.0,160.1 L86.5,159.1 L87.1,158.0 L87.6,156.9 L88.2,155.9 L88.7,154.8 L89.3,153.8 L89.9,152.7 L90.4,151.7 L91.0,150.6 L91.6,149.6 L92.2,148.5 L92.8,147.5 L93.4,146.4 L94.0,145.4 L94.6,144.4 L95.2,143.3 L95.9,142.3 L96.5,141.3 L97.1,140.2 L97.8,139.2 L98.4,138.2 L99.1,137.2 L99.7,136.2 L100.4,135.2 L101.0,134.2 L101.7,133.1 L102.4,132.1 L103.1,131.2 L103.8,130.2 L104.5,129.2 L105.2,128.2 L105.9,127.2 L106.6,126.2 L107.3,125.2 L108.0,124.3 L108.8,123.3 L109.5,122.3 L110.2,121.4 L111.0,120.4 L111.7,119.5 L112.5,118.5 L113.2,117.6 L114.0,116.7 L114.8,115.7 L115.5,114.8 L116.3,113.9 L117.1,113.0 L117.9,112.0 L118.7,111.1 L119.5,110.2 L120.3,109.3 L121.1,108.5 L121.9,107.6 L122.8,106.7 L123.6,105.8 L124.4,105.0 L125.3,104.1 L126.1,103.2 L127.0,102.4 L127.8,101.5 L128.7,100.7 L129.5,99.9 L130.4,99.1 L131.3,98.2 L132.2,97.4 L133.1,96.6 L133.9,95.8 L134.8,95.0 L135.7,94.3 L136.7,93.5 L137.6,92.7 L138.5,92.0 L139.4,91.2 L140.3,90.5 L141.3,89.7 L142.2,89.0 L143.1,88.3 L144.1,87.5 L145.1,86.8 L146.0,86.1 L147.0,85.4 L147.9,84.8 L148.9,84.1 L149.9,83.4 L150.9,82.8 L151.9,82.1 L152.9,81.5 L153.9,80.8 L154.9,80.2 L155.9,79.6 L156.9,79.0 L157.9,78.4 L158.9,77.8 L160.0,77.2 L161.0,76.7 L162.1,76.1 L163.1,75.6 L164.2,75.0 L165.2,74.5 L166.3,74.0 L167.3,73.5 L168.4,73.0 L169.5,72.5 L170.6,72.0 L171.6,71.5 L172.7,71.1 L173.8,70.6 L174.9,70.2 L176.0,69.7 L177.2,69.3 L178.3,68.9 L179.4,68.5 L180.5,68.1 L181.6,67.7 L182.8,67.3 L183.9,67.0 L185.0,66.6 L186.2,66.3 L187.3,65.9 L188.5,65.6 L189.6,65.3 L190.8,64.9 L191.9,64.6 L193.1,64.3 L194.3,64.0 L195.4,63.7 L196.6,63.4 L197.8,63.1 L199.0,62.9 L200.1,62.6 L201.3,62.3 L202.5,62.1 L203.7,61.8 L204.9,61.6 L206.0,61.3 L207.2,61.1 L208.4,60.8 L209.6,60.6 L210.8,60.3 L212.0,60.1 L213.2,59.9 L214.4,59.7 L215.5,59.4 L216.7,59.2 L217.9,59.0 L219.1,58.8 L220.3,58.6 L221.5,58.4 L222.7,58.2 L223.9,57.9 L225.1,57.7 L226.3,57.5 L227.5,57.3 L228.7,57.1 L229.8,56.9 L231.0,56.7 L232.2,56.5 L233.4,56.3 L234.6,56.1 L235.8,55.9 L237.0,55.7 L238.2,55.5 L239.3,55.3 L240.5,55.1 L241.7,54.9 L242.9,54.7 L244.1,54.5 L245.3,54.4 L246.5,54.2 L247.6,54.0 L248.8,53.8 L250.0,53.6 L251.2,53.4 L252.4,53.3 L253.6,53.1 L254.7,52.9 L255.9,52.7 L257.1,52.6 L258.3,52.4 L259.5,52.2 L260.7,52.1 L261.8,51.9 L263.0,51.7 L264.2,51.6 L265.4,51.4 L266.6,51.2 L267.8,51.1 L268.9,50.9 L270.1,50.8 L271.3,50.6 L272.5,50.5 L273.7,50.4 L274.9,50.2 L276.1,50.1 L277.2,49.9 L278.4,49.8 L279.6,49.7 L280.8,49.5 L282.0,49.4 L283.2,49.3 L284.4,49.2 L285.5,49.0 L286.7,48.9 L287.9,48.8 L289.1,48.7 L290.3,48.6 L291.5,48.5 L292.7,48.4 L293.9,48.3 L295.1,48.2 L296.2,48.1 L297.4,48.0 L298.6,47.9 L299.8,47.8 L301.0,47.7 L302.2,47.6 L303.4,47.5 L304.6,47.4 L305.8,47.4 L307.0,47.3 L308.2,47.2 L309.3,47.1 L310.5,47.0 L311.7,47.0 L312.9,46.9 L314.1,46.8 L315.3,46.8 L316.5,46.7 L317.7,46.7 L318.9,46.6 L320.1,46.5 L321.3,46.5 L322.5,46.4 L323.7,46.4 L324.9,46.4 L326.1,46.3 L327.3,46.3 L328.5,46.2 L329.7,46.2 L330.8,46.2 L332.0,46.1 L333.2,46.1 L334.4,46.1 L335.6,46.0 L336.8,46.0 L338.0,46.0 L339.2,46.0 L340.4,46.0 L341.6,45.9 L342.8,45.9 L344.0,45.9 L345.2,45.9 L346.4,45.9 L347.6,45.9 L348.8,45.9 L350.0,45.9 L351.2,45.9 L352.4,45.9 L353.6,45.9 L354.8,45.9 L356.0,45.9 L357.2,45.9 L358.4,45.9 L359.6,45.9 L360.8,46.0 L362.0,46.0 L363.2,46.0 L364.4,46.0 L365.6,46.0 L366.8,46.1 L368.0,46.1 L369.2,46.1 L370.4,46.2 L371.6,46.2 L372.8,46.2 L374.0,46.3 L375.2,46.3 L376.4,46.4 L377.6,46.4 L378.8,46.4 L380.0,46.5" fill="none" stroke="#bf00bf" stroke-width="1.8" stroke-linejoin="round" stroke-linecap="butt" stroke-dasharray="6.3 2.5"/>
<circle cx="60.80" cy="295.30" r="3.35" fill="#bf00bf" stroke="#bf00bf" stroke-width="1.05"/>
<circle cx="61.00" cy="267.00" r="3.35" fill="#bf00bf" stroke="#bf00bf" stroke-width="1.05"/>
<circle cx="61.20" cy="243.00" r="3.35" fill="#bf00bf" stroke="#bf00bf" stroke-width="1.05"/>
<circle cx="64.76" cy="218.40" r="3.35" fill="#bf00bf" stroke="#bf00bf" stroke-width="1.05"/>
<circle cx="72.55" cy="192.03" r="3.35" fill="#bf00bf" stroke="#bf00bf" stroke-width="1.05"/>
<circle cx="82.35" cy="167.67" r="3.35" fill="#bf00bf" stroke="#bf00bf" stroke-width="1.05"/>
<circle cx="96.48" cy="141.27" r="3.35" fill="#bf00bf" stroke="#bf00bf" stroke-width="1.05"/>
<circle cx="111.71" cy="119.48" r="3.35" fill="#bf00bf" stroke="#bf00bf" stroke-width="1.05"/>
<circle cx="127.81" cy="101.55" r="3.35" fill="#bf00bf" stroke="#bf00bf" stroke-width="1.05"/>
<circle cx="147.94" cy="84.77" r="3.35" fill="#bf00bf" stroke="#bf00bf" stroke-width="1.05"/>
<circle cx="172.74" cy="71.05" r="3.35" fill="#bf00bf" stroke="#bf00bf" stroke-width="1.05"/>
<circle cx="198.95" cy="62.87" r="3.35" fill="#bf00bf" stroke="#bf00bf" stroke-width="1.05"/>
<circle cx="223.89" cy="57.94" r="3.35" fill="#bf00bf" stroke="#bf00bf" stroke-width="1.05"/>
<circle cx="251.19" cy="53.44" r="3.35" fill="#bf00bf" stroke="#bf00bf" stroke-width="1.05"/>
<circle cx="277.24" cy="49.94" r="3.35" fill="#bf00bf" stroke="#bf00bf" stroke-width="1.05"/>
<circle cx="304.58" cy="47.43" r="3.35" fill="#bf00bf" stroke="#bf00bf" stroke-width="1.05"/>
<circle cx="330.85" cy="46.16" r="3.35" fill="#bf00bf" stroke="#bf00bf" stroke-width="1.05"/>
<circle cx="358.41" cy="45.92" r="3.35" fill="#bf00bf" stroke="#bf00bf" stroke-width="1.05"/>
<path d="M65.3,320.1 L65.4,318.8 L65.5,317.6 L65.6,316.4 L65.7,315.2 L65.8,314.0 L65.9,312.8 L66.1,311.6 L66.2,310.4 L66.3,309.2 L66.5,308.0 L66.6,306.8 L66.7,305.6 L66.9,304.4 L67.0,303.2 L67.2,302.0 L67.3,300.8 L67.5,299.7 L67.7,298.5 L67.8,297.3 L68.0,296.1 L68.2,294.9 L68.3,293.7 L68.5,292.5 L68.7,291.3 L68.9,290.1 L69.1,289.0 L69.3,287.8 L69.5,286.6 L69.6,285.4 L69.8,284.2 L70.1,283.1 L70.3,281.9 L70.5,280.7 L70.7,279.5 L70.9,278.3 L71.1,277.2 L71.3,276.0 L71.5,274.8 L71.8,273.6 L72.0,272.5 L72.2,271.3 L72.5,270.1 L72.7,268.9 L72.9,267.8 L73.2,266.6 L73.4,265.4 L73.7,264.3 L73.9,263.1 L74.2,261.9 L74.4,260.8 L74.7,259.6 L74.9,258.4 L75.2,257.3 L75.5,256.1 L75.7,254.9 L76.0,253.8 L76.3,252.6 L76.5,251.5 L76.8,250.3 L77.1,249.1 L77.4,248.0 L77.7,246.8 L77.9,245.7 L78.2,244.5 L78.5,243.3 L78.8,242.2 L79.1,241.0 L79.4,239.9 L79.7,238.7 L80.0,237.6 L80.3,236.4 L80.6,235.2 L80.9,234.1 L81.2,232.9 L81.5,231.8 L81.8,230.6 L82.1,229.5 L82.5,228.3 L82.8,227.2 L83.1,226.0 L83.4,224.9 L83.7,223.7 L84.1,222.6 L84.4,221.4 L84.7,220.3 L85.1,219.1 L85.4,218.0 L85.7,216.8 L86.1,215.7 L86.4,214.5 L86.7,213.4 L87.1,212.2 L87.4,211.1 L87.8,209.9 L88.1,208.8 L88.5,207.6 L88.8,206.5 L89.2,205.3 L89.5,204.2 L89.9,203.0 L90.2,201.9 L90.6,200.8 L90.9,199.6 L91.3,198.5 L91.6,197.3 L92.0,196.2 L92.4,195.0 L92.7,193.9 L93.1,192.7 L93.5,191.6 L93.8,190.4 L94.2,189.3 L94.6,188.2 L94.9,187.0 L95.3,185.9 L95.7,184.7 L96.1,183.6 L96.5,182.5 L96.8,181.3 L97.2,180.2 L97.6,179.0 L98.0,177.9 L98.4,176.8 L98.8,175.6 L99.2,174.5 L99.6,173.4 L100.0,172.2 L100.4,171.1 L100.8,170.0 L101.2,168.8 L101.7,167.7 L102.1,166.6 L102.5,165.4 L102.9,164.3 L103.4,163.2 L103.8,162.1 L104.2,161.0 L104.7,159.8 L105.1,158.7 L105.6,157.6 L106.0,156.5 L106.5,155.4 L106.9,154.3 L107.4,153.1 L107.9,152.0 L108.3,150.9 L108.8,149.8 L109.3,148.7 L109.8,147.6 L110.3,146.5 L110.8,145.4 L111.3,144.3 L111.8,143.2 L112.3,142.1 L112.8,141.0 L113.3,140.0 L113.8,138.9 L114.4,137.8 L114.9,136.7 L115.4,135.6 L116.0,134.5 L116.5,133.5 L117.1,132.4 L117.6,131.3 L118.2,130.3 L118.8,129.2 L119.3,128.1 L119.9,127.1 L120.5,126.0 L121.1,124.9 L121.7,123.9 L122.3,122.8 L122.9,121.8 L123.5,120.8 L124.2,119.7 L124.8,118.7 L125.4,117.7 L126.1,116.6 L126.7,115.6 L127.4,114.6 L128.0,113.6 L128.7,112.6 L129.4,111.6 L130.1,110.6 L130.8,109.6 L131.5,108.6 L132.2,107.6 L132.9,106.6 L133.6,105.7 L134.3,104.7 L135.0,103.8 L135.8,102.8 L136.5,101.9 L137.3,100.9 L138.0,100.0 L138.8,99.1 L139.6,98.2 L140.4,97.3 L141.1,96.4 L141.9,95.5 L142.7,94.6 L143.6,93.8 L144.4,92.9 L145.2,92.1 L146.0,91.2 L146.9,90.4 L147.7,89.6 L148.6,88.8 L149.5,88.0 L150.3,87.2 L151.2,86.4 L152.1,85.6 L153.0,84.9 L153.9,84.1 L154.9,83.4 L155.8,82.7 L156.7,82.0 L157.7,81.3 L158.6,80.6 L159.6,79.9 L160.5,79.2 L161.5,78.6 L162.5,77.9 L163.5,77.3 L164.5,76.7 L165.5,76.0 L166.5,75.4 L167.5,74.8 L168.5,74.2 L169.5,73.7 L170.6,73.1 L171.6,72.5 L172.7,72.0 L173.7,71.5 L174.8,70.9 L175.8,70.4 L176.9,69.9 L178.0,69.4 L179.1,68.9 L180.2,68.4 L181.3,68.0 L182.4,67.5 L183.5,67.0 L184.6,66.6 L185.7,66.2 L186.8,65.7 L187.9,65.3 L189.0,64.9 L190.2,64.5 L191.3,64.1 L192.4,63.7 L193.6,63.3 L194.7,63.0 L195.9,62.6 L197.0,62.3 L198.2,61.9 L199.3,61.6 L200.5,61.3 L201.7,60.9 L202.8,60.6 L204.0,60.3 L205.2,60.0 L206.3,59.8 L207.5,59.5 L208.7,59.2 L209.9,58.9 L211.1,58.7 L212.3,58.4 L213.4,58.2 L214.6,57.9 L215.8,57.7 L217.0,57.5 L218.2,57.3 L219.4,57.1 L220.6,56.9 L221.8,56.7 L223.0,56.5 L224.2,56.3 L225.4,56.1 L226.6,56.0 L227.8,55.8 L229.0,55.7 L230.2,55.5 L231.4,55.4 L232.6,55.2 L233.8,55.1 L235.0,55.0 L236.2,54.8 L237.4,54.7 L238.6,54.6 L239.8,54.5 L241.0,54.4 L242.2,54.3 L243.4,54.2 L244.6,54.1 L245.8,54.1 L247.0,54.0 L248.2,53.9 L249.4,53.8 L250.6,53.8 L251.8,53.7 L253.0,53.7 L254.2,53.6 L255.4,53.5 L256.6,53.5 L257.8,53.5 L259.0,53.4 L260.2,53.4 L261.4,53.3 L262.6,53.3 L263.8,53.3 L265.0,53.2 L266.2,53.2 L267.4,53.2 L268.6,53.1 L269.8,53.1 L271.0,53.1 L272.2,53.1 L273.4,53.1 L274.6,53.0 L275.8,53.0 L277.0,53.0 L278.2,53.0 L279.4,53.0 L280.6,52.9 L281.8,52.9 L283.0,52.9 L284.2,52.9 L285.4,52.9 L286.6,52.9 L287.8,52.8 L289.0,52.8 L290.2,52.8 L291.4,52.8 L292.6,52.8 L293.8,52.8 L295.0,52.8 L296.2,52.7 L297.4,52.7 L298.6,52.7 L299.8,52.7 L301.0,52.7 L302.2,52.7 L303.4,52.7 L304.6,52.6 L305.8,52.6 L307.0,52.6 L308.1,52.6 L309.3,52.6 L310.5,52.6 L311.7,52.6 L312.9,52.5 L314.1,52.5 L315.3,52.5 L316.5,52.5 L317.7,52.5 L318.9,52.5 L320.1,52.5 L321.3,52.4 L322.5,52.4 L323.7,52.4 L324.9,52.4 L326.1,52.4 L327.3,52.4 L328.4,52.4 L329.6,52.3 L330.8,52.3 L332.0,52.3 L333.2,52.3 L334.4,52.3 L335.6,52.3 L336.8,52.2 L338.0,52.2 L339.2,52.2 L340.4,52.2 L341.6,52.2 L342.8,52.2 L344.0,52.2 L345.2,52.1 L346.4,52.1 L347.6,52.1 L348.8,52.1 L350.0,52.1 L351.2,52.0 L352.4,52.0 L353.6,52.0 L354.8,52.0 L356.0,52.0 L357.2,52.0 L358.4,51.9 L359.6,51.9 L360.8,51.9 L362.0,51.9 L363.2,51.8 L364.4,51.8 L365.6,51.8 L366.8,51.8 L368.0,51.8 L369.2,51.7 L370.4,51.7 L371.6,51.7 L372.8,51.7 L374.0,51.6 L375.2,51.6 L376.4,51.6 L377.6,51.6 L378.8,51.5 L380.0,51.5" fill="none" stroke="#ff0000" stroke-width="1.8" stroke-linejoin="round" stroke-linecap="square"/>
<path d="M63.25,306.82 A3.35,3.35 0 0 0 69.95,306.82 Z" fill="#ff0000"/><circle cx="66.60" cy="306.82" r="3.35" fill="none" stroke="#ff0000" stroke-width="1.05"/>
<path d="M67.75,277.16 A3.35,3.35 0 0 0 74.45,277.16 Z" fill="#ff0000"/><circle cx="71.10" cy="277.16" r="3.35" fill="none" stroke="#ff0000" stroke-width="1.05"/>
<path d="M72.64,253.78 A3.35,3.35 0 0 0 79.34,253.78 Z" fill="#ff0000"/><circle cx="75.99" cy="253.78" r="3.35" fill="none" stroke="#ff0000" stroke-width="1.05"/>
<path d="M80.07,224.86 A3.35,3.35 0 0 0 86.77,224.86 Z" fill="#ff0000"/><circle cx="83.42" cy="224.86" r="3.35" fill="none" stroke="#ff0000" stroke-width="1.05"/>
<path d="M88.29,197.31 A3.35,3.35 0 0 0 94.99,197.31 Z" fill="#ff0000"/><circle cx="91.64" cy="197.31" r="3.35" fill="none" stroke="#ff0000" stroke-width="1.05"/>
<path d="M95.06,176.76 A3.35,3.35 0 0 0 101.76,176.76 Z" fill="#ff0000"/><circle cx="98.41" cy="176.76" r="3.35" fill="none" stroke="#ff0000" stroke-width="1.05"/>
<path d="M104.99,150.93 A3.35,3.35 0 0 0 111.69,150.93 Z" fill="#ff0000"/><circle cx="108.34" cy="150.93" r="3.35" fill="none" stroke="#ff0000" stroke-width="1.05"/>
<path d="M116.58,127.06 A3.35,3.35 0 0 0 123.28,127.06 Z" fill="#ff0000"/><circle cx="119.93" cy="127.06" r="3.35" fill="none" stroke="#ff0000" stroke-width="1.05"/>
<path d="M130.95,104.71 A3.35,3.35 0 0 0 137.65,104.71 Z" fill="#ff0000"/><circle cx="134.30" cy="104.71" r="3.35" fill="none" stroke="#ff0000" stroke-width="1.05"/>
<path d="M149.67,84.89 A3.35,3.35 0 0 0 156.37,84.89 Z" fill="#ff0000"/><circle cx="153.02" cy="84.89" r="3.35" fill="none" stroke="#ff0000" stroke-width="1.05"/>
<path d="M171.43,70.93 A3.35,3.35 0 0 0 178.13,70.93 Z" fill="#ff0000"/><circle cx="174.78" cy="70.93" r="3.35" fill="none" stroke="#ff0000" stroke-width="1.05"/>
<path d="M197.15,61.27 A3.35,3.35 0 0 0 203.85,61.27 Z" fill="#ff0000"/><circle cx="200.50" cy="61.27" r="3.35" fill="none" stroke="#ff0000" stroke-width="1.05"/>
<path d="M223.23,55.97 A3.35,3.35 0 0 0 229.93,55.97 Z" fill="#ff0000"/><circle cx="226.58" cy="55.97" r="3.35" fill="none" stroke="#ff0000" stroke-width="1.05"/>
<path d="M249.66,53.65 A3.35,3.35 0 0 0 256.36,53.65 Z" fill="#ff0000"/><circle cx="253.01" cy="53.65" r="3.35" fill="none" stroke="#ff0000" stroke-width="1.05"/>
<path d="M277.29,52.95 A3.35,3.35 0 0 0 283.99,52.95 Z" fill="#ff0000"/><circle cx="280.64" cy="52.95" r="3.35" fill="none" stroke="#ff0000" stroke-width="1.05"/>
<path d="M303.60,52.61 A3.35,3.35 0 0 0 310.30,52.61 Z" fill="#ff0000"/><circle cx="306.95" cy="52.61" r="3.35" fill="none" stroke="#ff0000" stroke-width="1.05"/>
<path d="M331.07,52.28 A3.35,3.35 0 0 0 337.77,52.28 Z" fill="#ff0000"/><circle cx="334.42" cy="52.28" r="3.35" fill="none" stroke="#ff0000" stroke-width="1.05"/>
<path d="M358.62,51.87 A3.35,3.35 0 0 0 365.32,51.87 Z" fill="#ff0000"/><circle cx="361.97" cy="51.87" r="3.35" fill="none" stroke="#ff0000" stroke-width="1.05"/>
<path d="M74.3,320.1 L74.5,318.9 L74.7,317.6 L74.9,316.5 L75.2,315.3 L75.4,314.1 L75.6,312.9 L75.8,311.7 L76.1,310.5 L76.3,309.3 L76.6,308.1 L76.8,306.9 L77.1,305.7 L77.3,304.5 L77.6,303.4 L77.8,302.2 L78.1,301.0 L78.3,299.8 L78.6,298.6 L78.8,297.5 L79.1,296.3 L79.4,295.1 L79.6,293.9 L79.9,292.8 L80.2,291.6 L80.5,290.4 L80.7,289.3 L81.0,288.1 L81.3,286.9 L81.6,285.8 L81.9,284.6 L82.1,283.5 L82.4,282.3 L82.7,281.1 L83.0,280.0 L83.3,278.8 L83.6,277.7 L83.9,276.5 L84.2,275.4 L84.5,274.2 L84.8,273.0 L85.2,271.9 L85.5,270.7 L85.8,269.6 L86.1,268.4 L86.4,267.3 L86.7,266.2 L87.1,265.0 L87.4,263.9 L87.7,262.7 L88.1,261.6 L88.4,260.4 L88.7,259.3 L89.1,258.2 L89.4,257.0 L89.8,255.9 L90.1,254.7 L90.4,253.6 L90.8,252.5 L91.2,251.3 L91.5,250.2 L91.9,249.1 L92.2,247.9 L92.6,246.8 L92.9,245.7 L93.3,244.5 L93.7,243.4 L94.1,242.3 L94.4,241.1 L94.8,240.0 L95.2,238.9 L95.6,237.7 L95.9,236.6 L96.3,235.5 L96.7,234.4 L97.1,233.2 L97.5,232.1 L97.9,231.0 L98.3,229.9 L98.7,228.7 L99.1,227.6 L99.5,226.5 L99.9,225.4 L100.3,224.2 L100.7,223.1 L101.1,222.0 L101.6,220.9 L102.0,219.7 L102.4,218.6 L102.8,217.5 L103.2,216.4 L103.7,215.3 L104.1,214.1 L104.5,213.0 L105.0,211.9 L105.4,210.8 L105.9,209.6 L106.3,208.5 L106.7,207.4 L107.2,206.3 L107.6,205.2 L108.1,204.0 L108.5,202.9 L109.0,201.8 L109.5,200.7 L109.9,199.6 L110.4,198.4 L110.9,197.3 L111.3,196.2 L111.8,195.1 L112.3,194.0 L112.8,192.9 L113.2,191.8 L113.7,190.7 L114.2,189.5 L114.7,188.4 L115.2,187.3 L115.7,186.2 L116.2,185.1 L116.7,184.0 L117.2,182.9 L117.8,181.8 L118.3,180.7 L118.8,179.6 L119.3,178.5 L119.8,177.4 L120.4,176.3 L120.9,175.3 L121.4,174.2 L122.0,173.1 L122.5,172.0 L123.1,170.9 L123.6,169.9 L124.2,168.8 L124.8,167.7 L125.3,166.6 L125.9,165.6 L126.5,164.5 L127.0,163.4 L127.6,162.4 L128.2,161.3 L128.8,160.3 L129.4,159.2 L130.0,158.2 L130.6,157.1 L131.2,156.1 L131.8,155.1 L132.4,154.0 L133.1,153.0 L133.7,152.0 L134.3,150.9 L135.0,149.9 L135.6,148.9 L136.3,147.9 L136.9,146.9 L137.6,145.9 L138.2,144.9 L138.9,143.9 L139.6,142.9 L140.2,141.9 L140.9,140.9 L141.6,139.9 L142.3,138.9 L143.0,138.0 L143.7,137.0 L144.4,136.0 L145.1,135.1 L145.8,134.1 L146.5,133.2 L147.3,132.2 L148.0,131.3 L148.7,130.3 L149.5,129.4 L150.2,128.5 L151.0,127.6 L151.8,126.7 L152.5,125.7 L153.3,124.8 L154.1,123.9 L154.9,123.0 L155.7,122.1 L156.5,121.3 L157.3,120.4 L158.1,119.5 L158.9,118.6 L159.7,117.8 L160.5,116.9 L161.4,116.1 L162.2,115.2 L163.1,114.4 L163.9,113.5 L164.8,112.7 L165.6,111.9 L166.5,111.1 L167.4,110.3 L168.3,109.5 L169.2,108.7 L170.1,107.9 L171.0,107.1 L171.9,106.3 L172.8,105.6 L173.7,104.8 L174.6,104.0 L175.6,103.3 L176.5,102.5 L177.4,101.8 L178.4,101.1 L179.4,100.4 L180.3,99.6 L181.3,98.9 L182.2,98.2 L183.2,97.5 L184.2,96.8 L185.2,96.2 L186.2,95.5 L187.2,94.8 L188.2,94.2 L189.2,93.5 L190.2,92.9 L191.2,92.2 L192.2,91.6 L193.3,91.0 L194.3,90.4 L195.3,89.8 L196.4,89.2 L197.4,88.6 L198.5,88.0 L199.5,87.4 L200.6,86.8 L201.6,86.3 L202.7,85.7 L203.8,85.2 L204.8,84.7 L205.9,84.1 L207.0,83.6 L208.1,83.1 L209.2,82.6 L210.3,82.1 L211.3,81.6 L212.4,81.2 L213.5,80.7 L214.7,80.2 L215.8,79.8 L216.9,79.3 L218.0,78.9 L219.1,78.5 L220.2,78.1 L221.4,77.7 L222.5,77.3 L223.6,76.9 L224.8,76.5 L225.9,76.1 L227.0,75.8 L228.2,75.4 L229.3,75.1 L230.5,74.7 L231.6,74.4 L232.8,74.1 L233.9,73.8 L235.1,73.5 L236.3,73.2 L237.4,72.9 L238.6,72.7 L239.8,72.4 L240.9,72.2 L242.1,71.9 L243.3,71.7 L244.5,71.5 L245.6,71.3 L246.8,71.1 L248.0,70.8 L249.2,70.7 L250.4,70.5 L251.5,70.3 L252.7,70.1 L253.9,70.0 L255.1,69.8 L256.3,69.6 L257.5,69.5 L258.7,69.4 L259.9,69.2 L261.1,69.1 L262.3,69.0 L263.5,68.9 L264.7,68.8 L265.9,68.7 L267.1,68.6 L268.3,68.5 L269.5,68.4 L270.7,68.3 L271.9,68.2 L273.1,68.1 L274.3,68.1 L275.5,68.0 L276.7,67.9 L277.9,67.9 L279.1,67.8 L280.4,67.8 L281.6,67.7 L282.8,67.7 L284.0,67.6 L285.2,67.6 L286.4,67.5 L287.6,67.5 L288.8,67.5 L290.0,67.4 L291.2,67.4 L292.4,67.4 L293.6,67.4 L294.8,67.3 L296.0,67.3 L297.2,67.3 L298.4,67.3 L299.7,67.3 L300.9,67.2 L302.1,67.2 L303.3,67.2 L304.5,67.2 L305.7,67.2 L306.9,67.2 L308.1,67.2 L309.3,67.2 L310.5,67.2 L311.7,67.2 L312.9,67.2 L314.1,67.2 L315.3,67.2 L316.5,67.2 L317.7,67.2 L318.9,67.2 L320.1,67.2 L321.3,67.2 L322.5,67.2 L323.7,67.2 L324.9,67.2 L326.1,67.2 L327.3,67.2 L328.5,67.2 L329.7,67.2 L330.9,67.2 L332.1,67.2 L333.3,67.3 L334.5,67.3 L335.7,67.3 L336.9,67.3 L338.1,67.3 L339.3,67.3 L340.5,67.3 L341.7,67.3 L342.9,67.3 L344.1,67.3 L345.3,67.3 L346.5,67.3 L347.7,67.3 L348.9,67.3 L350.1,67.3 L351.3,67.3 L352.5,67.3 L353.7,67.3 L354.9,67.3 L356.0,67.3 L357.2,67.3 L358.4,67.3 L359.6,67.3 L360.8,67.2 L362.0,67.2 L363.2,67.2 L364.4,67.2 L365.6,67.2 L366.8,67.2 L368.0,67.1 L369.2,67.1 L370.4,67.1 L371.6,67.1 L372.8,67.0 L374.0,67.0 L375.2,67.0 L376.4,66.9 L377.6,66.9 L378.8,66.9 L380.0,66.8" fill="none" stroke="#ff0000" stroke-width="1.8" stroke-linejoin="round" stroke-linecap="butt" stroke-dasharray="6.3 2.5"/>
<path d="M73.22,308.10 A3.35,3.35 0 0 0 79.92,308.10 Z" fill="#ff0000"/><circle cx="76.57" cy="308.10" r="3.35" fill="none" stroke="#ff0000" stroke-width="1.05"/>
<path d="M79.09,282.29 A3.35,3.35 0 0 0 85.79,282.29 Z" fill="#ff0000"/><circle cx="82.44" cy="282.29" r="3.35" fill="none" stroke="#ff0000" stroke-width="1.05"/>
<path d="M87.10,253.60 A3.35,3.35 0 0 0 93.80,253.60 Z" fill="#ff0000"/><circle cx="90.45" cy="253.60" r="3.35" fill="none" stroke="#ff0000" stroke-width="1.05"/>
<path d="M92.98,235.49 A3.35,3.35 0 0 0 99.68,235.49 Z" fill="#ff0000"/><circle cx="96.33" cy="235.49" r="3.35" fill="none" stroke="#ff0000" stroke-width="1.05"/>
<path d="M102.50,209.64 A3.35,3.35 0 0 0 109.20,209.64 Z" fill="#ff0000"/><circle cx="105.85" cy="209.64" r="3.35" fill="none" stroke="#ff0000" stroke-width="1.05"/>
<path d="M114.92,180.72 A3.35,3.35 0 0 0 121.62,180.72 Z" fill="#ff0000"/><circle cx="118.27" cy="180.72" r="3.35" fill="none" stroke="#ff0000" stroke-width="1.05"/>
<path d="M128.48,155.05 A3.35,3.35 0 0 0 135.18,155.05 Z" fill="#ff0000"/><circle cx="131.83" cy="155.05" r="3.35" fill="none" stroke="#ff0000" stroke-width="1.05"/>
<path d="M143.19,133.17 A3.35,3.35 0 0 0 149.89,133.17 Z" fill="#ff0000"/><circle cx="146.54" cy="133.17" r="3.35" fill="none" stroke="#ff0000" stroke-width="1.05"/>
<path d="M160.56,113.55 A3.35,3.35 0 0 0 167.26,113.55 Z" fill="#ff0000"/><circle cx="163.91" cy="113.55" r="3.35" fill="none" stroke="#ff0000" stroke-width="1.05"/>
<path d="M181.84,96.16 A3.35,3.35 0 0 0 188.54,96.16 Z" fill="#ff0000"/><circle cx="185.19" cy="96.16" r="3.35" fill="none" stroke="#ff0000" stroke-width="1.05"/>
<path d="M204.72,83.11 A3.35,3.35 0 0 0 211.42,83.11 Z" fill="#ff0000"/><circle cx="208.07" cy="83.11" r="3.35" fill="none" stroke="#ff0000" stroke-width="1.05"/>
<path d="M230.59,73.80 A3.35,3.35 0 0 0 237.29,73.80 Z" fill="#ff0000"/><circle cx="233.94" cy="73.80" r="3.35" fill="none" stroke="#ff0000" stroke-width="1.05"/>
<path d="M256.54,69.23 A3.35,3.35 0 0 0 263.24,69.23 Z" fill="#ff0000"/><circle cx="259.89" cy="69.23" r="3.35" fill="none" stroke="#ff0000" stroke-width="1.05"/>
<path d="M284.25,67.50 A3.35,3.35 0 0 0 290.95,67.50 Z" fill="#ff0000"/><circle cx="287.60" cy="67.50" r="3.35" fill="none" stroke="#ff0000" stroke-width="1.05"/>
<path d="M310.74,67.17 A3.35,3.35 0 0 0 317.44,67.17 Z" fill="#ff0000"/><circle cx="314.09" cy="67.17" r="3.35" fill="none" stroke="#ff0000" stroke-width="1.05"/>
<path d="M337.13,67.29 A3.35,3.35 0 0 0 343.83,67.29 Z" fill="#ff0000"/><circle cx="340.48" cy="67.29" r="3.35" fill="none" stroke="#ff0000" stroke-width="1.05"/>
<path d="M363.46,67.17 A3.35,3.35 0 0 0 370.16,67.17 Z" fill="#ff0000"/><circle cx="366.81" cy="67.17" r="3.35" fill="none" stroke="#ff0000" stroke-width="1.05"/>
</g>
<line x1="67.23" y1="317.30" x2="67.23" y2="319.20" stroke="#000" stroke-width="0.7"/>
<line x1="75.82" y1="317.30" x2="75.82" y2="319.20" stroke="#000" stroke-width="0.7"/>
<line x1="82.49" y1="317.30" x2="82.49" y2="319.20" stroke="#000" stroke-width="0.7"/>
<line x1="87.94" y1="317.30" x2="87.94" y2="319.20" stroke="#000" stroke-width="0.7"/>
<line x1="92.54" y1="317.30" x2="92.54" y2="319.20" stroke="#000" stroke-width="0.7"/>
<line x1="96.53" y1="317.30" x2="96.53" y2="319.20" stroke="#000" stroke-width="0.7"/>
<line x1="100.05" y1="317.30" x2="100.05" y2="319.20" stroke="#000" stroke-width="0.7"/>
<line x1="103.20" y1="317.30" x2="103.20" y2="320.50" stroke="#000" stroke-width="0.9"/>
<line x1="123.91" y1="317.30" x2="123.91" y2="319.20" stroke="#000" stroke-width="0.7"/>
<line x1="136.03" y1="317.30" x2="136.03" y2="319.20" stroke="#000" stroke-width="0.7"/>
<line x1="144.62" y1="317.30" x2="144.62" y2="319.20" stroke="#000" stroke-width="0.7"/>
<line x1="151.29" y1="317.30" x2="151.29" y2="319.20" stroke="#000" stroke-width="0.7"/>
<line x1="156.74" y1="317.30" x2="156.74" y2="319.20" stroke="#000" stroke-width="0.7"/>
<line x1="161.34" y1="317.30" x2="161.34" y2="319.20" stroke="#000" stroke-width="0.7"/>
<line x1="165.33" y1="317.30" x2="165.33" y2="319.20" stroke="#000" stroke-width="0.7"/>
<line x1="168.85" y1="317.30" x2="168.85" y2="319.20" stroke="#000" stroke-width="0.7"/>
<line x1="172.00" y1="317.30" x2="172.00" y2="320.50" stroke="#000" stroke-width="0.9"/>
<line x1="192.71" y1="317.30" x2="192.71" y2="319.20" stroke="#000" stroke-width="0.7"/>
<line x1="204.83" y1="317.30" x2="204.83" y2="319.20" stroke="#000" stroke-width="0.7"/>
<line x1="213.42" y1="317.30" x2="213.42" y2="319.20" stroke="#000" stroke-width="0.7"/>
<line x1="220.09" y1="317.30" x2="220.09" y2="319.20" stroke="#000" stroke-width="0.7"/>
<line x1="225.54" y1="317.30" x2="225.54" y2="319.20" stroke="#000" stroke-width="0.7"/>
<line x1="230.14" y1="317.30" x2="230.14" y2="319.20" stroke="#000" stroke-width="0.7"/>
<line x1="234.13" y1="317.30" x2="234.13" y2="319.20" stroke="#000" stroke-width="0.7"/>
<line x1="237.65" y1="317.30" x2="237.65" y2="319.20" stroke="#000" stroke-width="0.7"/>
<line x1="240.80" y1="317.30" x2="240.80" y2="320.50" stroke="#000" stroke-width="0.9"/>
<line x1="261.51" y1="317.30" x2="261.51" y2="319.20" stroke="#000" stroke-width="0.7"/>
<line x1="273.63" y1="317.30" x2="273.63" y2="319.20" stroke="#000" stroke-width="0.7"/>
<line x1="282.22" y1="317.30" x2="282.22" y2="319.20" stroke="#000" stroke-width="0.7"/>
<line x1="288.89" y1="317.30" x2="288.89" y2="319.20" stroke="#000" stroke-width="0.7"/>
<line x1="294.34" y1="317.30" x2="294.34" y2="319.20" stroke="#000" stroke-width="0.7"/>
<line x1="298.94" y1="317.30" x2="298.94" y2="319.20" stroke="#000" stroke-width="0.7"/>
<line x1="302.93" y1="317.30" x2="302.93" y2="319.20" stroke="#000" stroke-width="0.7"/>
<line x1="306.45" y1="317.30" x2="306.45" y2="319.20" stroke="#000" stroke-width="0.7"/>
<line x1="309.60" y1="317.30" x2="309.60" y2="320.50" stroke="#000" stroke-width="0.9"/>
<line x1="330.31" y1="317.30" x2="330.31" y2="319.20" stroke="#000" stroke-width="0.7"/>
<line x1="342.43" y1="317.30" x2="342.43" y2="319.20" stroke="#000" stroke-width="0.7"/>
<line x1="351.02" y1="317.30" x2="351.02" y2="319.20" stroke="#000" stroke-width="0.7"/>
<line x1="357.69" y1="317.30" x2="357.69" y2="319.20" stroke="#000" stroke-width="0.7"/>
<line x1="363.14" y1="317.30" x2="363.14" y2="319.20" stroke="#000" stroke-width="0.7"/>
<line x1="367.74" y1="317.30" x2="367.74" y2="319.20" stroke="#000" stroke-width="0.7"/>
<line x1="371.73" y1="317.30" x2="371.73" y2="319.20" stroke="#000" stroke-width="0.7"/>
<line x1="375.25" y1="317.30" x2="375.25" y2="319.20" stroke="#000" stroke-width="0.7"/>
<line x1="378.40" y1="317.30" x2="378.40" y2="320.50" stroke="#000" stroke-width="0.9"/>
<line x1="58.60" y1="317.15" x2="60.50" y2="317.15" stroke="#000" stroke-width="0.7"/>
<line x1="58.60" y1="309.81" x2="60.50" y2="309.81" stroke="#000" stroke-width="0.7"/>
<line x1="58.60" y1="304.60" x2="60.50" y2="304.60" stroke="#000" stroke-width="0.7"/>
<line x1="58.60" y1="300.56" x2="60.50" y2="300.56" stroke="#000" stroke-width="0.7"/>
<line x1="58.60" y1="297.26" x2="60.50" y2="297.26" stroke="#000" stroke-width="0.7"/>
<line x1="58.60" y1="294.47" x2="60.50" y2="294.47" stroke="#000" stroke-width="0.7"/>
<line x1="58.60" y1="292.06" x2="60.50" y2="292.06" stroke="#000" stroke-width="0.7"/>
<line x1="58.60" y1="289.93" x2="60.50" y2="289.93" stroke="#000" stroke-width="0.7"/>
<line x1="57.30" y1="288.02" x2="60.50" y2="288.02" stroke="#000" stroke-width="0.9"/>
<line x1="58.60" y1="275.48" x2="60.50" y2="275.48" stroke="#000" stroke-width="0.7"/>
<line x1="58.60" y1="268.14" x2="60.50" y2="268.14" stroke="#000" stroke-width="0.7"/>
<line x1="58.60" y1="262.93" x2="60.50" y2="262.93" stroke="#000" stroke-width="0.7"/>
<line x1="58.60" y1="258.89" x2="60.50" y2="258.89" stroke="#000" stroke-width="0.7"/>
<line x1="58.60" y1="255.59" x2="60.50" y2="255.59" stroke="#000" stroke-width="0.7"/>
<line x1="58.60" y1="252.80" x2="60.50" y2="252.80" stroke="#000" stroke-width="0.7"/>
<line x1="58.60" y1="250.39" x2="60.50" y2="250.39" stroke="#000" stroke-width="0.7"/>
<line x1="58.60" y1="248.26" x2="60.50" y2="248.26" stroke="#000" stroke-width="0.7"/>
<line x1="57.30" y1="246.35" x2="60.50" y2="246.35" stroke="#000" stroke-width="0.9"/>
<line x1="58.60" y1="233.81" x2="60.50" y2="233.81" stroke="#000" stroke-width="0.7"/>
<line x1="58.60" y1="226.47" x2="60.50" y2="226.47" stroke="#000" stroke-width="0.7"/>
<line x1="58.60" y1="221.26" x2="60.50" y2="221.26" stroke="#000" stroke-width="0.7"/>
<line x1="58.60" y1="217.22" x2="60.50" y2="217.22" stroke="#000" stroke-width="0.7"/>
<line x1="58.60" y1="213.92" x2="60.50" y2="213.92" stroke="#000" stroke-width="0.7"/>
<line x1="58.60" y1="211.13" x2="60.50" y2="211.13" stroke="#000" stroke-width="0.7"/>
<line x1="58.60" y1="208.72" x2="60.50" y2="208.72" stroke="#000" stroke-width="0.7"/>
<line x1="58.60" y1="206.59" x2="60.50" y2="206.59" stroke="#000" stroke-width="0.7"/>
<line x1="57.30" y1="204.68" x2="60.50" y2="204.68" stroke="#000" stroke-width="0.9"/>
<line x1="58.60" y1="192.14" x2="60.50" y2="192.14" stroke="#000" stroke-width="0.7"/>
<line x1="58.60" y1="184.80" x2="60.50" y2="184.80" stroke="#000" stroke-width="0.7"/>
<line x1="58.60" y1="179.59" x2="60.50" y2="179.59" stroke="#000" stroke-width="0.7"/>
<line x1="58.60" y1="175.55" x2="60.50" y2="175.55" stroke="#000" stroke-width="0.7"/>
<line x1="58.60" y1="172.25" x2="60.50" y2="172.25" stroke="#000" stroke-width="0.7"/>
<line x1="58.60" y1="169.46" x2="60.50" y2="169.46" stroke="#000" stroke-width="0.7"/>
<line x1="58.60" y1="167.05" x2="60.50" y2="167.05" stroke="#000" stroke-width="0.7"/>
<line x1="58.60" y1="164.92" x2="60.50" y2="164.92" stroke="#000" stroke-width="0.7"/>
<line x1="57.30" y1="163.01" x2="60.50" y2="163.01" stroke="#000" stroke-width="0.9"/>
<line x1="58.60" y1="150.47" x2="60.50" y2="150.47" stroke="#000" stroke-width="0.7"/>
<line x1="58.60" y1="143.13" x2="60.50" y2="143.13" stroke="#000" stroke-width="0.7"/>
<line x1="58.60" y1="137.92" x2="60.50" y2="137.92" stroke="#000" stroke-width="0.7"/>
<line x1="58.60" y1="133.88" x2="60.50" y2="133.88" stroke="#000" stroke-width="0.7"/>
<line x1="58.60" y1="130.58" x2="60.50" y2="130.58" stroke="#000" stroke-width="0.7"/>
<line x1="58.60" y1="127.79" x2="60.50" y2="127.79" stroke="#000" stroke-width="0.7"/>
<line x1="58.60" y1="125.38" x2="60.50" y2="125.38" stroke="#000" stroke-width="0.7"/>
<line x1="58.60" y1="123.25" x2="60.50" y2="123.25" stroke="#000" stroke-width="0.7"/>
<line x1="57.30" y1="121.34" x2="60.50" y2="121.34" stroke="#000" stroke-width="0.9"/>
<line x1="58.60" y1="108.80" x2="60.50" y2="108.80" stroke="#000" stroke-width="0.7"/>
<line x1="58.60" y1="101.46" x2="60.50" y2="101.46" stroke="#000" stroke-width="0.7"/>
<line x1="58.60" y1="96.25" x2="60.50" y2="96.25" stroke="#000" stroke-width="0.7"/>
<line x1="58.60" y1="92.21" x2="60.50" y2="92.21" stroke="#000" stroke-width="0.7"/>
<line x1="58.60" y1="88.91" x2="60.50" y2="88.91" stroke="#000" stroke-width="0.7"/>
<line x1="58.60" y1="86.12" x2="60.50" y2="86.12" stroke="#000" stroke-width="0.7"/>
<line x1="58.60" y1="83.71" x2="60.50" y2="83.71" stroke="#000" stroke-width="0.7"/>
<line x1="58.60" y1="81.58" x2="60.50" y2="81.58" stroke="#000" stroke-width="0.7"/>
<line x1="57.30" y1="79.67" x2="60.50" y2="79.67" stroke="#000" stroke-width="0.9"/>
<line x1="58.60" y1="67.13" x2="60.50" y2="67.13" stroke="#000" stroke-width="0.7"/>
<line x1="58.60" y1="59.79" x2="60.50" y2="59.79" stroke="#000" stroke-width="0.7"/>
<line x1="58.60" y1="54.58" x2="60.50" y2="54.58" stroke="#000" stroke-width="0.7"/>
<line x1="58.60" y1="50.54" x2="60.50" y2="50.54" stroke="#000" stroke-width="0.7"/>
<line x1="58.60" y1="47.24" x2="60.50" y2="47.24" stroke="#000" stroke-width="0.7"/>
<line x1="58.60" y1="44.45" x2="60.50" y2="44.45" stroke="#000" stroke-width="0.7"/>
<line x1="58.60" y1="42.04" x2="60.50" y2="42.04" stroke="#000" stroke-width="0.7"/>
<line x1="58.60" y1="39.91" x2="60.50" y2="39.91" stroke="#000" stroke-width="0.7"/>
<line x1="57.30" y1="38.00" x2="60.50" y2="38.00" stroke="#000" stroke-width="0.9"/>
<line x1="58.60" y1="25.46" x2="60.50" y2="25.46" stroke="#000" stroke-width="0.7"/>
<line x1="58.60" y1="18.12" x2="60.50" y2="18.12" stroke="#000" stroke-width="0.7"/>
<line x1="58.60" y1="12.91" x2="60.50" y2="12.91" stroke="#000" stroke-width="0.7"/>
<line x1="58.60" y1="8.87" x2="60.50" y2="8.87" stroke="#000" stroke-width="0.7"/>
<line x1="58.60" y1="5.57" x2="60.50" y2="5.57" stroke="#000" stroke-width="0.7"/>
<line x1="58.60" y1="2.78" x2="60.50" y2="2.78" stroke="#000" stroke-width="0.7"/>
<rect x="60.50" y="0.50" width="317.80" height="316.80" fill="none" stroke="#262626" stroke-width="0.95"/>
<text x="0" y="0" font-family="Liberation Sans, sans-serif" font-size="14.20" fill="#000" stroke="#000" stroke-width="0.28" transform="translate(91.51,333.40) scale(1.0665,1)">10</text>
<text x="0" y="0" font-family="Liberation Sans, sans-serif" font-size="9.90" fill="#000" stroke="#000" stroke-width="0.28" transform="translate(108.71,328.30) scale(1.0000,1)">1</text>
<text x="0" y="0" font-family="Liberation Sans, sans-serif" font-size="14.20" fill="#000" stroke="#000" stroke-width="0.28" transform="translate(160.19,333.40) scale(1.0665,1)">10</text>
<text x="0" y="0" font-family="Liberation Sans, sans-serif" font-size="9.90" fill="#000" stroke="#000" stroke-width="0.28" transform="translate(177.65,328.30) scale(1.0000,1)">2</text>
<text x="0" y="0" font-family="Liberation Sans, sans-serif" font-size="14.20" fill="#000" stroke="#000" stroke-width="0.28" transform="translate(228.90,333.40) scale(1.0665,1)">10</text>
<text x="0" y="0" font-family="Liberation Sans, sans-serif" font-size="9.90" fill="#000" stroke="#000" stroke-width="0.28" transform="translate(246.48,328.30) scale(1.0000,1)">3</text>
<text x="0" y="0" font-family="Liberation Sans, sans-serif" font-size="14.20" fill="#000" stroke="#000" stroke-width="0.28" transform="translate(297.55,333.40) scale(1.0665,1)">10</text>
<text x="0" y="0" font-family="Liberation Sans, sans-serif" font-size="9.90" fill="#000" stroke="#000" stroke-width="0.28" transform="translate(315.28,328.30) scale(1.0000,1)">4</text>
<text x="0" y="0" font-family="Liberation Sans, sans-serif" font-size="14.20" fill="#000" stroke="#000" stroke-width="0.28" transform="translate(366.50,333.40) scale(1.0665,1)">10</text>
<text x="0" y="0" font-family="Liberation Sans, sans-serif" font-size="9.90" fill="#000" stroke="#000" stroke-width="0.28" transform="translate(384.06,328.30) scale(1.0000,1)">5</text>
<text x="0" y="0" font-family="Liberation Sans, sans-serif" font-size="15.60" fill="#000" stroke="#000" stroke-width="0.28" transform="translate(67.31,25.50) scale(1.1266,1)">(a)</text>
<text x="0" y="0" font-family="Liberation Sans, sans-serif" font-size="14.20" fill="#000" stroke="#000" stroke-width="0.28" transform="translate(198.34,350.50) scale(1.1238,1)">r (km)</text>
<line x1="265.20" y1="255.30" x2="284.80" y2="255.30" stroke="#0000ff" stroke-width="1.8"/>
<line x1="265.20" y1="270.60" x2="284.80" y2="270.60" stroke="#008000" stroke-width="1.8"/>
<circle cx="275.00" cy="270.60" r="3.35" fill="none" stroke="#008000" stroke-width="1.05"/>
<line x1="265.20" y1="285.60" x2="284.80" y2="285.60" stroke="#bf00bf" stroke-width="1.8"/>
<circle cx="275.00" cy="285.60" r="3.35" fill="#bf00bf" stroke="#bf00bf" stroke-width="1.05"/>
<line x1="265.20" y1="299.90" x2="284.80" y2="299.90" stroke="#ff0000" stroke-width="1.8"/>
<path d="M271.65,299.90 A3.35,3.35 0 0 0 278.35,299.90 Z" fill="#ff0000"/><circle cx="275.00" cy="299.90" r="3.35" fill="none" stroke="#ff0000" stroke-width="1.05"/>
<g transform="translate(296.88,259.00) scale(1.0956,1)" font-family="Liberation Sans, sans-serif" fill="#000" stroke="#000" stroke-width="0.28"><text x="0.00" y="0.00" font-size="11.3">H</text><text x="8.16" y="2.30" font-size="8.0">2</text><text x="12.61" y="0.00" font-size="11.3">COH</text></g>
<text font-family="Liberation Sans, sans-serif" font-size="9.1" fill="#000" stroke="#000" stroke-width="0.28" x="340.96" y="256.10">+</text>
<g transform="translate(296.90,273.80) scale(1.0822,1)" font-family="Liberation Sans, sans-serif" fill="#000" stroke="#000" stroke-width="0.28"><text x="0.00" y="0.00" font-size="11.3">H</text><text x="8.16" y="2.30" font-size="8.0">2</text><text x="12.61" y="0.00" font-size="11.3">CO</text></g>
<text font-family="Liberation Sans, sans-serif" font-size="9.1" fill="#000" stroke="#000" stroke-width="0.28" x="331.96" y="270.60">+</text>
<g transform="translate(296.64,288.60) scale(1.1447,1)" font-family="Liberation Sans, sans-serif" fill="#000" stroke="#000" stroke-width="0.28"><text x="0.00" y="0.00" font-size="11.3">H</text><text x="8.16" y="2.30" font-size="8.0">5</text><text x="12.61" y="0.00" font-size="11.3">C</text><text x="20.77" y="2.30" font-size="8.0">2</text><text x="25.22" y="0.00" font-size="11.3">O</text><text x="34.01" y="2.30" font-size="8.0">2</text></g>
<text font-family="Liberation Sans, sans-serif" font-size="9.1" fill="#000" stroke="#000" stroke-width="0.28" x="343.56" y="286.00">+</text>
<g transform="translate(296.71,303.40) scale(1.0676,1)" font-family="Liberation Sans, sans-serif" fill="#000" stroke="#000" stroke-width="0.28"><text x="0.00" y="0.00" font-size="11.3">HCOOCH</text><text x="50.22" y="2.30" font-size="8.0">3</text></g>
<clipPath id="cb"><rect x="396.45" y="0.50" width="318.45" height="316.80"/></clipPath>
<g clip-path="url(#cb)">
<path d="M428.6,320.0 L429.1,318.9 L429.5,317.7 L429.9,316.6 L430.3,315.5 L430.7,314.3 L431.2,313.2 L431.6,312.1 L432.0,310.9 L432.5,309.8 L432.9,308.7 L433.4,307.6 L433.8,306.5 L434.3,305.3 L434.7,304.2 L435.2,303.1 L435.6,302.0 L436.1,300.9 L436.6,299.8 L437.0,298.7 L437.5,297.6 L438.0,296.5 L438.5,295.4 L438.9,294.3 L439.4,293.2 L439.9,292.1 L440.4,291.0 L440.9,289.9 L441.4,288.8 L441.9,287.7 L442.4,286.6 L442.9,285.6 L443.5,284.5 L444.0,283.4 L444.5,282.3 L445.0,281.2 L445.5,280.2 L446.1,279.1 L446.6,278.0 L447.1,277.0 L447.7,275.9 L448.2,274.8 L448.8,273.8 L449.3,272.7 L449.8,271.6 L450.4,270.6 L451.0,269.5 L451.5,268.5 L452.1,267.4 L452.6,266.4 L453.2,265.3 L453.8,264.3 L454.3,263.2 L454.9,262.2 L455.5,261.1 L456.1,260.1 L456.7,259.0 L457.3,258.0 L457.8,257.0 L458.4,255.9 L459.0,254.9 L459.6,253.9 L460.2,252.8 L460.8,251.8 L461.4,250.8 L462.1,249.8 L462.7,248.7 L463.3,247.7 L463.9,246.7 L464.5,245.7 L465.1,244.6 L465.8,243.6 L466.4,242.6 L467.0,241.6 L467.7,240.6 L468.3,239.6 L468.9,238.6 L469.6,237.6 L470.2,236.6 L470.9,235.6 L471.5,234.6 L472.2,233.6 L472.8,232.6 L473.5,231.6 L474.1,230.6 L474.8,229.6 L475.5,228.6 L476.1,227.6 L476.8,226.6 L477.5,225.6 L478.1,224.7 L478.8,223.7 L479.5,222.7 L480.2,221.7 L480.8,220.7 L481.5,219.8 L482.2,218.8 L482.9,217.8 L483.6,216.8 L484.3,215.9 L485.0,214.9 L485.7,213.9 L486.4,213.0 L487.1,212.0 L487.8,211.0 L488.5,210.1 L489.2,209.1 L489.9,208.1 L490.6,207.2 L491.4,206.2 L492.1,205.3 L492.8,204.3 L493.5,203.4 L494.2,202.4 L495.0,201.5 L495.7,200.5 L496.4,199.6 L497.2,198.6 L497.9,197.7 L498.6,196.8 L499.4,195.8 L500.1,194.9 L500.9,193.9 L501.6,193.0 L502.4,192.1 L503.1,191.1 L503.9,190.2 L504.6,189.3 L505.4,188.3 L506.1,187.4 L506.9,186.5 L507.6,185.6 L508.4,184.6 L509.2,183.7 L509.9,182.8 L510.7,181.9 L511.5,181.0 L512.2,180.0 L513.0,179.1 L513.8,178.2 L514.6,177.3 L515.4,176.4 L516.1,175.5 L516.9,174.6 L517.7,173.7 L518.5,172.8 L519.3,171.9 L520.1,171.0 L520.9,170.1 L521.6,169.2 L522.4,168.3 L523.2,167.4 L524.0,166.5 L524.8,165.6 L525.6,164.7 L526.4,163.8 L527.2,162.9 L528.0,162.0 L528.9,161.1 L529.7,160.2 L530.5,159.3 L531.3,158.5 L532.1,157.6 L532.9,156.7 L533.7,155.8 L534.5,154.9 L535.4,154.1 L536.2,153.2 L537.0,152.3 L537.8,151.4 L538.7,150.6 L539.5,149.7 L540.3,148.8 L541.1,147.9 L542.0,147.1 L542.8,146.2 L543.6,145.3 L544.5,144.5 L545.3,143.6 L546.1,142.7 L547.0,141.9 L547.8,141.0 L548.7,140.2 L549.5,139.3 L550.4,138.5 L551.2,137.6 L552.0,136.7 L552.9,135.9 L553.7,135.0 L554.6,134.2 L555.4,133.3 L556.3,132.5 L557.1,131.6 L558.0,130.8 L558.8,130.0 L559.7,129.1 L560.6,128.3 L561.4,127.4 L562.3,126.6 L563.1,125.7 L564.0,124.9 L564.9,124.1 L565.7,123.2 L566.6,122.4 L567.5,121.6 L568.3,120.7 L569.2,119.9 L570.1,119.1 L570.9,118.3 L571.8,117.4 L572.7,116.6 L573.6,115.8 L574.4,115.0 L575.3,114.1 L576.2,113.3 L577.1,112.5 L577.9,111.7 L578.8,110.9 L579.7,110.0 L580.6,109.2 L581.5,108.4 L582.4,107.6 L583.3,106.8 L584.1,106.0 L585.0,105.2 L585.9,104.4 L586.8,103.6 L587.7,102.8 L588.6,102.0 L589.5,101.2 L590.4,100.4 L591.3,99.6 L592.2,98.8 L593.1,98.0 L594.0,97.2 L594.9,96.4 L595.8,95.7 L596.7,94.9 L597.6,94.1 L598.5,93.3 L599.5,92.5 L600.4,91.8 L601.3,91.0 L602.2,90.2 L603.1,89.4 L604.0,88.7 L604.9,87.9 L605.9,87.1 L606.8,86.4 L607.7,85.6 L608.6,84.9 L609.6,84.1 L610.5,83.3 L611.4,82.6 L612.4,81.8 L613.3,81.1 L614.2,80.3 L615.2,79.6 L616.1,78.8 L617.0,78.1 L618.0,77.4 L618.9,76.6 L619.8,75.9 L620.8,75.2 L621.7,74.4 L622.7,73.7 L623.6,73.0 L624.6,72.2 L625.5,71.5 L626.5,70.8 L627.4,70.1 L628.4,69.4 L629.3,68.6 L630.3,67.9 L631.3,67.2 L632.2,66.5 L633.2,65.8 L634.2,65.1 L635.1,64.4 L636.1,63.7 L637.1,63.0 L638.0,62.3 L639.0,61.6 L640.0,60.9 L640.9,60.2 L641.9,59.6 L642.9,58.9 L643.9,58.2 L644.9,57.5 L645.8,56.8 L646.8,56.2 L647.8,55.5 L648.8,54.8 L649.8,54.2 L650.8,53.5 L651.8,52.9 L652.8,52.2 L653.8,51.5 L654.8,50.9 L655.8,50.2 L656.8,49.6 L657.8,48.9 L658.8,48.3 L659.8,47.7 L660.8,47.0 L661.8,46.4 L662.8,45.8 L663.8,45.1 L664.8,44.5 L665.8,43.9 L666.9,43.3 L667.9,42.6 L668.9,42.0 L669.9,41.4 L671.0,40.8 L672.0,40.2 L673.0,39.6 L674.0,39.0 L675.1,38.4 L676.1,37.8 L677.1,37.2 L678.2,36.6 L679.2,36.0 L680.3,35.5 L681.3,34.9 L682.3,34.3 L683.4,33.7 L684.4,33.1 L685.5,32.6 L686.5,32.0 L687.6,31.4 L688.6,30.9 L689.7,30.3 L690.8,29.8 L691.8,29.2 L692.9,28.7 L693.9,28.1 L695.0,27.6 L696.1,27.1 L697.1,26.5 L698.2,26.0 L699.3,25.5 L700.4,24.9 L701.4,24.4 L702.5,23.9 L703.6,23.4 L704.7,22.9 L705.8,22.4 L706.9,21.8 L707.9,21.3 L709.0,20.8 L710.1,20.3 L711.2,19.9 L712.3,19.4 L713.4,18.9 L714.5,18.4 L715.6,17.9" fill="none" stroke="#0000ff" stroke-width="1.8" stroke-linejoin="round" stroke-linecap="square"/>
<path d="M397.7,316.6 L397.9,315.4 L398.1,314.3 L398.3,313.1 L398.5,311.9 L398.7,310.7 L398.9,309.5 L399.1,308.3 L399.3,307.2 L399.5,306.0 L399.8,304.8 L400.0,303.6 L400.2,302.4 L400.5,301.3 L400.7,300.1 L400.9,298.9 L401.2,297.7 L401.4,296.6 L401.7,295.4 L401.9,294.2 L402.2,293.1 L402.5,291.9 L402.7,290.7 L403.0,289.5 L403.3,288.4 L403.6,287.2 L403.8,286.0 L404.1,284.9 L404.4,283.7 L404.7,282.5 L405.0,281.4 L405.3,280.2 L405.6,279.1 L405.9,277.9 L406.2,276.7 L406.5,275.6 L406.8,274.4 L407.1,273.3 L407.5,272.1 L407.8,271.0 L408.1,269.8 L408.4,268.7 L408.8,267.5 L409.1,266.4 L409.5,265.2 L409.8,264.1 L410.1,262.9 L410.5,261.8 L410.9,260.6 L411.2,259.5 L411.6,258.3 L411.9,257.2 L412.3,256.1 L412.7,254.9 L413.1,253.8 L413.4,252.6 L413.8,251.5 L414.2,250.4 L414.6,249.2 L415.0,248.1 L415.4,247.0 L415.8,245.8 L416.2,244.7 L416.6,243.6 L417.0,242.5 L417.4,241.3 L417.8,240.2 L418.2,239.1 L418.7,238.0 L419.1,236.8 L419.5,235.7 L419.9,234.6 L420.4,233.5 L420.8,232.4 L421.2,231.3 L421.7,230.1 L422.1,229.0 L422.6,227.9 L423.0,226.8 L423.5,225.7 L424.0,224.6 L424.4,223.5 L424.9,222.4 L425.4,221.3 L425.8,220.2 L426.3,219.1 L426.8,218.0 L427.3,216.9 L427.8,215.8 L428.2,214.7 L428.7,213.6 L429.2,212.5 L429.7,211.4 L430.2,210.4 L430.7,209.3 L431.2,208.2 L431.8,207.1 L432.3,206.0 L432.8,204.9 L433.3,203.9 L433.8,202.8 L434.4,201.7 L434.9,200.6 L435.4,199.6 L436.0,198.5 L436.5,197.4 L437.0,196.4 L437.6,195.3 L438.1,194.2 L438.7,193.2 L439.2,192.1 L439.8,191.0 L440.4,190.0 L440.9,188.9 L441.5,187.9 L442.1,186.8 L442.6,185.8 L443.2,184.7 L443.8,183.7 L444.4,182.6 L444.9,181.6 L445.5,180.5 L446.1,179.5 L446.7,178.5 L447.3,177.4 L447.9,176.4 L448.5,175.4 L449.1,174.3 L449.7,173.3 L450.3,172.3 L451.0,171.2 L451.6,170.2 L452.2,169.2 L452.8,168.2 L453.5,167.1 L454.1,166.1 L454.7,165.1 L455.4,164.1 L456.0,163.1 L456.6,162.1 L457.3,161.1 L457.9,160.1 L458.6,159.1 L459.2,158.1 L459.9,157.1 L460.5,156.1 L461.2,155.1 L461.9,154.1 L462.5,153.1 L463.2,152.1 L463.9,151.1 L464.6,150.1 L465.2,149.1 L465.9,148.1 L466.6,147.2 L467.3,146.2 L468.0,145.2 L468.7,144.2 L469.4,143.3 L470.1,142.3 L470.8,141.3 L471.5,140.4 L472.2,139.4 L472.9,138.4 L473.6,137.5 L474.3,136.5 L475.1,135.6 L475.8,134.6 L476.5,133.7 L477.2,132.7 L478.0,131.8 L478.7,130.8 L479.4,129.9 L480.2,128.9 L480.9,128.0 L481.7,127.1 L482.4,126.1 L483.2,125.2 L483.9,124.3 L484.7,123.3 L485.4,122.4 L486.2,121.5 L487.0,120.6 L487.7,119.7 L488.5,118.7 L489.3,117.8 L490.1,116.9 L490.8,116.0 L491.6,115.1 L492.4,114.2 L493.2,113.3 L494.0,112.4 L494.8,111.5 L495.6,110.6 L496.4,109.7 L497.2,108.8 L498.0,107.9 L498.8,107.1 L499.6,106.2 L500.4,105.3 L501.2,104.4 L502.0,103.5 L502.8,102.7 L503.7,101.8 L504.5,100.9 L505.3,100.1 L506.1,99.2 L507.0,98.3 L507.8,97.5 L508.7,96.6 L509.5,95.8 L510.3,94.9 L511.2,94.1 L512.0,93.2 L512.9,92.4 L513.7,91.5 L514.6,90.7 L515.5,89.9 L516.3,89.0 L517.2,88.2 L518.0,87.4 L518.9,86.6 L519.8,85.7 L520.7,84.9 L521.5,84.1 L522.4,83.3 L523.3,82.5 L524.2,81.7 L525.1,80.9 L526.0,80.1 L526.9,79.3 L527.7,78.5 L528.6,77.7 L529.5,76.9 L530.4,76.1 L531.4,75.3 L532.3,74.5 L533.2,73.7 L534.1,73.0 L535.0,72.2 L535.9,71.4 L536.8,70.7 L537.8,69.9 L538.7,69.1 L539.6,68.4 L540.5,67.6 L541.5,66.8 L542.4,66.1 L543.3,65.3 L544.3,64.6 L545.2,63.9 L546.2,63.1 L547.1,62.4 L548.1,61.6 L549.0,60.9 L550.0,60.2 L550.9,59.5 L551.9,58.7 L552.9,58.0 L553.8,57.3 L554.8,56.6 L555.8,55.9 L556.7,55.2 L557.7,54.5 L558.7,53.8 L559.7,53.1 L560.6,52.4 L561.6,51.7 L562.6,51.0 L563.6,50.3 L564.6,49.6 L565.6,49.0 L566.6,48.3 L567.6,47.6 L568.6,47.0 L569.6,46.3 L570.6,45.6 L571.6,45.0 L572.6,44.3 L573.6,43.7 L574.6,43.0 L575.6,42.4 L576.6,41.8 L577.6,41.1 L578.7,40.5 L579.7,39.9 L580.7,39.3 L581.7,38.6 L582.8,38.0 L583.8,37.4 L584.8,36.8 L585.9,36.2 L586.9,35.6 L587.9,35.0 L589.0,34.4 L590.0,33.8 L591.1,33.3 L592.1,32.7 L593.2,32.1 L594.2,31.5 L595.3,31.0 L596.3,30.4 L597.4,29.8 L598.5,29.3 L599.5,28.7 L600.6,28.2 L601.6,27.7 L602.7,27.1 L603.8,26.6 L604.9,26.1 L605.9,25.5 L607.0,25.0 L608.1,24.5 L609.2,24.0 L610.2,23.5 L611.3,23.0 L612.4,22.5 L613.5,22.0 L614.6,21.5 L615.7,21.0 L616.8,20.5 L617.9,20.0 L619.0,19.6 L620.1,19.1 L621.2,18.7 L622.3,18.2 L623.4,17.7 L624.5,17.3 L625.6,16.9 L626.7,16.4 L627.8,16.0 L628.9,15.5 L630.0,15.1 L631.1,14.7 L632.3,14.3 L633.4,13.9 L634.5,13.5 L635.6,13.1 L636.7,12.7 L637.9,12.3 L639.0,11.9 L640.1,11.5 L641.3,11.2 L642.4,10.8 L643.5,10.4 L644.7,10.1 L645.8,9.7 L646.9,9.4 L648.1,9.0 L649.2,8.7 L650.4,8.3 L651.5,8.0 L652.7,7.7 L653.8,7.4 L655.0,7.1 L656.1,6.7 L657.3,6.4 L658.4,6.2 L659.6,5.9 L660.7,5.6 L661.9,5.3 L663.1,5.0 L664.2,4.7 L665.4,4.5 L666.6,4.2 L667.7,4.0 L668.9,3.7 L670.1,3.5 L671.2,3.2 L672.4,3.0 L673.6,2.8 L674.8,2.6 L675.9,2.4 L677.1,2.1 L678.3,1.9 L679.5,1.7 L680.7,1.6 L681.9,1.4 L683.0,1.2 L684.2,1.0 L685.4,0.9 L686.6,0.7 L687.8,0.5 L689.0,0.4 L690.2,0.2 L691.4,0.1 L692.6,-0.0 L693.8,-0.2 L695.0,-0.3 L696.2,-0.4 L697.4,-0.5 L698.6,-0.6 L699.8,-0.7 L701.0,-0.8 L702.2,-0.9" fill="none" stroke="#0000ff" stroke-width="1.8" stroke-linejoin="round" stroke-linecap="butt" stroke-dasharray="6.3 2.5"/>
<path d="M451.4,319.9 L451.8,318.8 L452.2,317.7 L452.7,316.6 L453.1,315.5 L453.6,314.4 L454.1,313.3 L454.5,312.2 L455.0,311.1 L455.5,310.0 L456.0,308.9 L456.4,307.8 L456.9,306.7 L457.4,305.6 L457.9,304.5 L458.4,303.4 L458.9,302.3 L459.5,301.3 L460.0,300.2 L460.5,299.1 L461.0,298.0 L461.6,297.0 L462.1,295.9 L462.6,294.8 L463.2,293.8 L463.7,292.7 L464.3,291.7 L464.8,290.6 L465.4,289.5 L466.0,288.5 L466.5,287.4 L467.1,286.4 L467.7,285.3 L468.3,284.3 L468.9,283.3 L469.5,282.2 L470.0,281.2 L470.6,280.1 L471.2,279.1 L471.9,278.1 L472.5,277.0 L473.1,276.0 L473.7,275.0 L474.3,274.0 L474.9,272.9 L475.6,271.9 L476.2,270.9 L476.8,269.9 L477.4,268.9 L478.1,267.9 L478.7,266.9 L479.4,265.8 L480.0,264.8 L480.7,263.8 L481.3,262.8 L482.0,261.8 L482.6,260.8 L483.3,259.8 L484.0,258.8 L484.6,257.8 L485.3,256.8 L486.0,255.9 L486.6,254.9 L487.3,253.9 L488.0,252.9 L488.7,251.9 L489.4,250.9 L490.1,249.9 L490.8,249.0 L491.4,248.0 L492.1,247.0 L492.8,246.0 L493.5,245.0 L494.2,244.1 L494.9,243.1 L495.6,242.1 L496.3,241.2 L497.1,240.2 L497.8,239.2 L498.5,238.3 L499.2,237.3 L499.9,236.3 L500.6,235.4 L501.3,234.4 L502.1,233.5 L502.8,232.5 L503.5,231.5 L504.2,230.6 L505.0,229.6 L505.7,228.7 L506.4,227.7 L507.2,226.8 L507.9,225.8 L508.6,224.9 L509.4,223.9 L510.1,223.0 L510.8,222.1 L511.6,221.1 L512.3,220.2 L513.0,219.2 L513.8,218.3 L514.5,217.3 L515.3,216.4 L516.0,215.5 L516.8,214.5 L517.5,213.6 L518.3,212.7 L519.0,211.7 L519.7,210.8 L520.5,209.9 L521.2,208.9 L522.0,208.0 L522.8,207.1 L523.5,206.1 L524.3,205.2 L525.0,204.3 L525.8,203.3 L526.5,202.4 L527.3,201.5 L528.0,200.6 L528.8,199.6 L529.5,198.7 L530.3,197.8 L531.1,196.9 L531.8,195.9 L532.6,195.0 L533.3,194.1 L534.1,193.2 L534.9,192.2 L535.6,191.3 L536.4,190.4 L537.1,189.5 L537.9,188.5 L538.7,187.6 L539.4,186.7 L540.2,185.8 L541.0,184.9 L541.7,183.9 L542.5,183.0 L543.2,182.1 L544.0,181.2 L544.8,180.2 L545.5,179.3 L546.3,178.4 L547.0,177.5 L547.8,176.6 L548.6,175.6 L549.3,174.7 L550.1,173.8 L550.9,172.9 L551.6,171.9 L552.4,171.0 L553.1,170.1 L553.9,169.2 L554.7,168.2 L555.4,167.3 L556.2,166.4 L556.9,165.5 L557.7,164.5 L558.4,163.6 L559.2,162.7 L560.0,161.8 L560.7,160.8 L561.5,159.9 L562.2,159.0 L563.0,158.1 L563.7,157.1 L564.5,156.2 L565.2,155.3 L566.0,154.3 L566.7,153.4 L567.5,152.5 L568.2,151.5 L569.0,150.6 L569.7,149.7 L570.5,148.7 L571.2,147.8 L572.0,146.8 L572.7,145.9 L573.4,145.0 L574.2,144.0 L574.9,143.1 L575.7,142.1 L576.4,141.2 L577.1,140.3 L577.9,139.3 L578.6,138.4 L579.4,137.4 L580.1,136.5 L580.9,135.6 L581.6,134.6 L582.3,133.7 L583.1,132.7 L583.8,131.8 L584.6,130.9 L585.4,130.0 L586.1,129.0 L586.9,128.1 L587.6,127.2 L588.4,126.3 L589.2,125.4 L590.0,124.5 L590.8,123.6 L591.5,122.7 L592.3,121.8 L593.1,120.9 L593.9,120.0 L594.7,119.1 L595.6,118.2 L596.4,117.4 L597.2,116.5 L598.0,115.6 L598.8,114.7 L599.6,113.9 L600.5,113.0 L601.3,112.2 L602.1,111.3 L603.0,110.4 L603.8,109.6 L604.6,108.7 L605.5,107.9 L606.3,107.0 L607.1,106.2 L608.0,105.3 L608.8,104.4 L609.7,103.6 L610.5,102.7 L611.4,101.9 L612.2,101.0 L613.0,100.2 L613.9,99.3 L614.7,98.5 L615.6,97.6 L616.4,96.8 L617.3,96.0 L618.1,95.1 L619.0,94.3 L619.8,93.4 L620.7,92.6 L621.5,91.7 L622.4,90.9 L623.2,90.0 L624.1,89.2 L624.9,88.4 L625.8,87.5 L626.7,86.7 L627.5,85.9 L628.4,85.0 L629.2,84.2 L630.1,83.4 L631.0,82.5 L631.8,81.7 L632.7,80.9 L633.6,80.1 L634.4,79.2 L635.3,78.4 L636.2,77.6 L637.1,76.8 L638.0,76.0 L638.8,75.2 L639.7,74.4 L640.6,73.5 L641.5,72.7 L642.4,71.9 L643.3,71.1 L644.1,70.3 L645.0,69.5 L645.9,68.7 L646.8,67.9 L647.7,67.2 L648.6,66.4 L649.5,65.6 L650.4,64.8 L651.3,64.0 L652.3,63.2 L653.2,62.5 L654.1,61.7 L655.0,60.9 L655.9,60.2 L656.8,59.4 L657.8,58.6 L658.7,57.9 L659.6,57.1 L660.5,56.3 L661.5,55.6 L662.4,54.8 L663.3,54.1 L664.3,53.3 L665.2,52.6 L666.1,51.9 L667.1,51.1 L668.0,50.4 L669.0,49.6 L669.9,48.9 L670.9,48.2 L671.8,47.4 L672.8,46.7 L673.7,46.0 L674.7,45.3 L675.6,44.5 L676.6,43.8 L677.5,43.1 L678.5,42.4 L679.5,41.7 L680.4,41.0 L681.4,40.3 L682.4,39.5 L683.3,38.8 L684.3,38.1 L685.3,37.4 L686.2,36.7 L687.2,36.0 L688.2,35.3 L689.2,34.7 L690.1,34.0 L691.1,33.3 L692.1,32.6 L693.1,31.9 L694.1,31.2 L695.0,30.5 L696.0,29.9 L697.0,29.2 L698.0,28.5 L699.0,27.8 L700.0,27.1 L701.0,26.5 L702.0,25.8 L703.0,25.1 L704.0,24.5 L705.0,23.8 L706.0,23.1 L707.0,22.5 L708.0,21.8 L709.0,21.2 L710.0,20.5 L711.0,19.9 L712.0,19.2 L713.0,18.6 L714.0,17.9 L715.0,17.3 L716.0,16.6 L717.0,16.0 L718.0,15.3 L719.0,14.7 L720.0,14.0" fill="none" stroke="#008000" stroke-width="1.8" stroke-linejoin="round" stroke-linecap="square"/>
<circle cx="461.56" cy="296.97" r="3.35" fill="none" stroke="#008000" stroke-width="1.05"/>
<circle cx="474.93" cy="272.95" r="3.35" fill="none" stroke="#008000" stroke-width="1.05"/>
<circle cx="490.06" cy="249.94" r="3.35" fill="none" stroke="#008000" stroke-width="1.05"/>
<circle cx="505.70" cy="228.69" r="3.35" fill="none" stroke="#008000" stroke-width="1.05"/>
<circle cx="522.75" cy="207.06" r="3.35" fill="none" stroke="#008000" stroke-width="1.05"/>
<circle cx="539.43" cy="186.70" r="3.35" fill="none" stroke="#008000" stroke-width="1.05"/>
<circle cx="556.17" cy="166.40" r="3.35" fill="none" stroke="#008000" stroke-width="1.05"/>
<circle cx="573.45" cy="144.96" r="3.35" fill="none" stroke="#008000" stroke-width="1.05"/>
<circle cx="589.98" cy="124.47" r="3.35" fill="none" stroke="#008000" stroke-width="1.05"/>
<circle cx="608.83" cy="104.45" r="3.35" fill="none" stroke="#008000" stroke-width="1.05"/>
<circle cx="628.38" cy="85.03" r="3.35" fill="none" stroke="#008000" stroke-width="1.05"/>
<circle cx="647.73" cy="67.16" r="3.35" fill="none" stroke="#008000" stroke-width="1.05"/>
<circle cx="668.96" cy="49.64" r="3.35" fill="none" stroke="#008000" stroke-width="1.05"/>
<circle cx="690.14" cy="33.96" r="3.35" fill="none" stroke="#008000" stroke-width="1.05"/>
<circle cx="711.96" cy="19.21" r="3.35" fill="none" stroke="#008000" stroke-width="1.05"/>
<path d="M424.4,319.9 L424.8,318.8 L425.2,317.7 L425.5,316.5 L425.9,315.4 L426.3,314.3 L426.7,313.1 L427.1,312.0 L427.5,310.9 L427.9,309.8 L428.4,308.6 L428.8,307.5 L429.2,306.4 L429.7,305.3 L430.2,304.2 L430.6,303.1 L431.1,302.0 L431.6,300.9 L432.0,299.8 L432.5,298.7 L433.0,297.6 L433.5,296.5 L434.0,295.4 L434.6,294.3 L435.1,293.3 L435.6,292.2 L436.1,291.1 L436.6,290.0 L437.2,288.9 L437.7,287.9 L438.3,286.8 L438.8,285.7 L439.4,284.7 L439.9,283.6 L440.5,282.5 L441.0,281.5 L441.6,280.4 L442.1,279.3 L442.7,278.3 L443.3,277.2 L443.8,276.1 L444.4,275.1 L445.0,274.0 L445.5,273.0 L446.1,271.9 L446.7,270.9 L447.3,269.8 L447.9,268.8 L448.4,267.7 L449.0,266.7 L449.6,265.6 L450.2,264.6 L450.8,263.5 L451.4,262.5 L452.0,261.5 L452.6,260.4 L453.2,259.4 L453.8,258.4 L454.4,257.3 L455.0,256.3 L455.7,255.3 L456.3,254.2 L456.9,253.2 L457.5,252.2 L458.1,251.2 L458.8,250.1 L459.4,249.1 L460.0,248.1 L460.6,247.1 L461.3,246.1 L461.9,245.0 L462.5,244.0 L463.1,243.0 L463.8,242.0 L464.4,241.0 L465.0,239.9 L465.7,238.9 L466.3,237.9 L466.9,236.9 L467.6,235.9 L468.2,234.9 L468.9,233.8 L469.5,232.8 L470.1,231.8 L470.8,230.8 L471.4,229.8 L472.1,228.8 L472.7,227.8 L473.4,226.8 L474.0,225.8 L474.7,224.8 L475.3,223.8 L476.0,222.7 L476.6,221.7 L477.3,220.7 L478.0,219.7 L478.6,218.8 L479.3,217.8 L480.0,216.8 L480.6,215.8 L481.3,214.8 L482.0,213.8 L482.7,212.8 L483.4,211.8 L484.0,210.8 L484.7,209.9 L485.4,208.9 L486.1,207.9 L486.8,206.9 L487.5,205.9 L488.2,205.0 L488.9,204.0 L489.6,203.0 L490.3,202.1 L491.0,201.1 L491.8,200.1 L492.5,199.2 L493.2,198.2 L493.9,197.2 L494.6,196.3 L495.3,195.3 L496.1,194.3 L496.8,193.4 L497.5,192.4 L498.2,191.5 L499.0,190.5 L499.7,189.6 L500.4,188.6 L501.2,187.7 L501.9,186.7 L502.6,185.8 L503.4,184.8 L504.1,183.9 L504.9,182.9 L505.6,182.0 L506.4,181.1 L507.1,180.1 L507.8,179.2 L508.6,178.2 L509.3,177.3 L510.1,176.4 L510.8,175.4 L511.6,174.5 L512.3,173.6 L513.1,172.6 L513.8,171.7 L514.6,170.8 L515.4,169.8 L516.1,168.9 L516.9,168.0 L517.6,167.0 L518.4,166.1 L519.1,165.2 L519.9,164.2 L520.7,163.3 L521.4,162.4 L522.2,161.5 L522.9,160.5 L523.7,159.6 L524.5,158.7 L525.2,157.8 L526.0,156.8 L526.8,155.9 L527.5,155.0 L528.3,154.1 L529.0,153.1 L529.8,152.2 L530.6,151.3 L531.3,150.4 L532.1,149.5 L532.9,148.5 L533.6,147.6 L534.4,146.7 L535.2,145.8 L535.9,144.9 L536.7,143.9 L537.5,143.0 L538.2,142.1 L539.0,141.2 L539.8,140.3 L540.5,139.3 L541.3,138.4 L542.1,137.5 L542.9,136.6 L543.6,135.7 L544.4,134.7 L545.2,133.8 L545.9,132.9 L546.7,132.0 L547.5,131.1 L548.2,130.1 L549.0,129.2 L549.8,128.3 L550.5,127.4 L551.3,126.4 L552.1,125.5 L552.8,124.6 L553.6,123.7 L554.4,122.8 L555.1,121.8 L555.9,120.9 L556.7,120.0 L557.5,119.1 L558.2,118.2 L559.0,117.2 L559.8,116.3 L560.5,115.4 L561.3,114.5 L562.1,113.5 L562.8,112.6 L563.6,111.7 L564.4,110.8 L565.2,109.9 L565.9,108.9 L566.7,108.0 L567.5,107.1 L568.3,106.2 L569.0,105.3 L569.8,104.4 L570.6,103.4 L571.4,102.5 L572.1,101.6 L572.9,100.7 L573.7,99.8 L574.5,98.9 L575.3,98.0 L576.0,97.1 L576.8,96.1 L577.6,95.2 L578.4,94.3 L579.2,93.4 L580.0,92.5 L580.8,91.6 L581.5,90.7 L582.3,89.8 L583.1,88.9 L583.9,88.0 L584.7,87.1 L585.5,86.2 L586.3,85.3 L587.1,84.4 L587.9,83.5 L588.7,82.6 L589.5,81.7 L590.3,80.8 L591.1,79.9 L591.9,79.0 L592.7,78.1 L593.5,77.3 L594.3,76.4 L595.1,75.5 L595.9,74.6 L596.8,73.7 L597.6,72.8 L598.4,72.0 L599.2,71.1 L600.0,70.2 L600.9,69.3 L601.7,68.5 L602.5,67.6 L603.3,66.7 L604.2,65.9 L605.0,65.0 L605.8,64.1 L606.7,63.3 L607.5,62.4 L608.3,61.6 L609.2,60.7 L610.0,59.9 L610.8,59.0 L611.7,58.2 L612.5,57.3 L613.4,56.5 L614.2,55.6 L615.1,54.8 L615.9,53.9 L616.8,53.1 L617.7,52.3 L618.5,51.4 L619.4,50.6 L620.3,49.8 L621.1,49.0 L622.0,48.1 L622.9,47.3 L623.7,46.5 L624.6,45.7 L625.5,44.9 L626.4,44.1 L627.3,43.2 L628.2,42.4 L629.1,41.6 L629.9,40.8 L630.8,40.0 L631.7,39.2 L632.6,38.4 L633.5,37.7 L634.4,36.9 L635.4,36.1 L636.3,35.3 L637.2,34.5 L638.1,33.7 L639.0,33.0 L639.9,32.2 L640.9,31.4 L641.8,30.7 L642.7,29.9 L643.7,29.2 L644.6,28.4 L645.5,27.6 L646.5,26.9 L647.4,26.2 L648.4,25.4 L649.3,24.7 L650.3,24.0 L651.2,23.2 L652.2,22.5 L653.2,21.8 L654.1,21.1 L655.1,20.4 L656.1,19.7 L657.1,19.0 L658.0,18.3 L659.0,17.6 L660.0,16.9 L661.0,16.2 L662.0,15.6 L663.0,14.9 L664.0,14.2 L665.0,13.6 L666.0,12.9 L667.0,12.3 L668.1,11.7 L669.1,11.0 L670.1,10.4 L671.1,9.8 L672.2,9.2 L673.2,8.6 L674.2,8.0 L675.3,7.4 L676.3,6.8 L677.4,6.3 L678.4,5.7 L679.5,5.1 L680.6,4.6 L681.6,4.0 L682.7,3.5 L683.8,3.0 L684.9,2.5 L686.0,2.0 L687.1,1.5 L688.1,1.0 L689.2,0.5 L690.4,0.0 L691.5,-0.4 L692.6,-0.9 L693.7,-1.3 L694.8,-1.8 L695.9,-2.2 L697.1,-2.6 L698.2,-3.0" fill="none" stroke="#008000" stroke-width="1.8" stroke-linejoin="round" stroke-linecap="butt" stroke-dasharray="6.3 2.5"/>
<circle cx="427.10" cy="312.00" r="3.35" fill="none" stroke="#008000" stroke-width="1.05"/>
<circle cx="441.57" cy="280.39" r="3.35" fill="none" stroke="#008000" stroke-width="1.05"/>
<circle cx="451.41" cy="262.51" r="3.35" fill="none" stroke="#008000" stroke-width="1.05"/>
<circle cx="465.04" cy="239.94" r="3.35" fill="none" stroke="#008000" stroke-width="1.05"/>
<circle cx="480.64" cy="215.77" r="3.35" fill="none" stroke="#008000" stroke-width="1.05"/>
<circle cx="496.79" cy="193.39" r="3.35" fill="none" stroke="#008000" stroke-width="1.05"/>
<circle cx="513.09" cy="172.62" r="3.35" fill="none" stroke="#008000" stroke-width="1.05"/>
<circle cx="529.81" cy="152.23" r="3.35" fill="none" stroke="#008000" stroke-width="1.05"/>
<circle cx="547.46" cy="131.06" r="3.35" fill="none" stroke="#008000" stroke-width="1.05"/>
<circle cx="565.16" cy="109.87" r="3.35" fill="none" stroke="#008000" stroke-width="1.05"/>
<circle cx="582.33" cy="89.80" r="3.35" fill="none" stroke="#008000" stroke-width="1.05"/>
<circle cx="600.85" cy="69.35" r="3.35" fill="none" stroke="#008000" stroke-width="1.05"/>
<circle cx="620.26" cy="49.78" r="3.35" fill="none" stroke="#008000" stroke-width="1.05"/>
<circle cx="639.02" cy="32.97" r="3.35" fill="none" stroke="#008000" stroke-width="1.05"/>
<circle cx="661.01" cy="16.23" r="3.35" fill="none" stroke="#008000" stroke-width="1.05"/>
<circle cx="683.79" cy="2.98" r="3.35" fill="none" stroke="#008000" stroke-width="1.05"/>
<path d="M427.1,319.9 L427.5,318.8 L428.0,317.7 L428.4,316.7 L428.9,315.6 L429.3,314.5 L429.8,313.4 L430.2,312.3 L430.7,311.3 L431.2,310.2 L431.6,309.1 L432.1,308.0 L432.6,306.9 L433.1,305.8 L433.6,304.8 L434.0,303.7 L434.5,302.6 L435.0,301.5 L435.5,300.4 L436.0,299.3 L436.6,298.2 L437.1,297.2 L437.6,296.1 L438.1,295.0 L438.6,293.9 L439.2,292.8 L439.7,291.8 L440.3,290.7 L440.8,289.6 L441.3,288.5 L441.9,287.5 L442.5,286.4 L443.0,285.3 L443.6,284.3 L444.2,283.2 L444.8,282.1 L445.3,281.1 L445.9,280.0 L446.5,279.0 L447.1,277.9 L447.7,276.9 L448.3,275.8 L448.9,274.8 L449.6,273.7 L450.2,272.7 L450.8,271.7 L451.5,270.6 L452.1,269.6 L452.7,268.6 L453.4,267.6 L454.1,266.5 L454.7,265.5 L455.4,264.5 L456.1,263.5 L456.8,262.5 L457.4,261.5 L458.1,260.5 L458.8,259.6 L459.5,258.6 L460.2,257.6 L461.0,256.6 L461.7,255.7 L462.4,254.7 L463.1,253.8 L463.9,252.8 L464.6,251.9 L465.4,250.9 L466.2,250.0 L466.9,249.1 L467.7,248.2 L468.5,247.3 L469.3,246.4 L470.1,245.5 L470.9,244.6 L471.7,243.7 L472.5,242.8 L473.3,241.9 L474.1,241.1 L475.0,240.2 L475.8,239.4 L476.6,238.5 L477.5,237.7 L478.4,236.9 L479.2,236.1 L480.1,235.2 L481.0,234.4 L481.9,233.6 L482.7,232.8 L483.6,232.1 L484.5,231.3 L485.5,230.5 L486.4,229.8 L487.3,229.0 L488.2,228.3 L489.2,227.5 L490.1,226.8 L491.0,226.1 L492.0,225.3 L492.9,224.6 L493.9,223.9 L494.9,223.2 L495.8,222.5 L496.8,221.9 L497.8,221.2 L498.8,220.5 L499.8,219.9 L500.8,219.2 L501.8,218.6 L502.8,218.0 L503.8,217.3 L504.8,216.7 L505.9,216.1 L506.9,215.5 L507.9,214.9 L509.0,214.3 L510.0,213.7 L511.0,213.2 L512.1,212.6 L513.2,212.1 L514.2,211.5 L515.3,211.0 L516.4,210.4 L517.4,209.9 L518.5,209.4 L519.6,208.9 L520.7,208.4 L521.8,207.9 L522.9,207.4 L523.9,206.9 L525.0,206.5 L526.1,206.0 L527.3,205.5 L528.4,205.1 L529.5,204.6 L530.6,204.1 L531.7,203.7 L532.8,203.3 L533.9,202.8 L535.0,202.4 L536.2,201.9 L537.3,201.5 L538.4,201.1 L539.5,200.6 L540.6,200.2 L541.8,199.8 L542.9,199.4 L544.0,198.9 L545.1,198.5 L546.2,198.1 L547.4,197.7 L548.5,197.3 L549.6,196.8 L550.7,196.4 L551.9,196.0 L553.0,195.6 L554.1,195.2 L555.2,194.7 L556.3,194.3 L557.5,193.9 L558.6,193.5 L559.7,193.1 L560.8,192.6 L562.0,192.2 L563.1,191.8 L564.2,191.3 L565.3,190.9 L566.4,190.5 L567.5,190.1 L568.7,189.6 L569.8,189.2 L570.9,188.7 L572.0,188.3 L573.1,187.9 L574.2,187.4 L575.3,187.0 L576.4,186.5 L577.5,186.1 L578.6,185.6 L579.7,185.1 L580.8,184.7 L581.9,184.2 L583.0,183.7 L584.1,183.2 L585.2,182.8 L586.3,182.3 L587.4,181.8 L588.5,181.3 L589.6,180.8 L590.7,180.3 L591.7,179.8 L592.8,179.3 L593.9,178.7 L595.0,178.2 L596.1,177.7 L597.1,177.2 L598.2,176.6 L599.3,176.1 L600.4,175.6 L601.4,175.0 L602.5,174.5 L603.6,173.9 L604.6,173.4 L605.7,172.9 L606.8,172.3 L607.8,171.8 L608.9,171.2 L610.0,170.7 L611.0,170.1 L612.1,169.6 L613.2,169.0 L614.2,168.5 L615.3,167.9 L616.4,167.4 L617.4,166.9 L618.5,166.3 L619.6,165.8 L620.6,165.2 L621.7,164.7 L622.8,164.2 L623.9,163.7 L624.9,163.1 L626.0,162.6 L627.1,162.1 L628.2,161.6 L629.3,161.1 L630.3,160.6 L631.4,160.1 L632.5,159.6 L633.6,159.1 L634.7,158.6 L635.8,158.2 L636.9,157.7 L638.0,157.2 L639.1,156.8 L640.2,156.3 L641.3,155.9 L642.4,155.5 L643.6,155.0 L644.7,154.6 L645.8,154.2 L646.9,153.8 L648.1,153.4 L649.2,153.0 L650.3,152.6 L651.4,152.3 L652.6,151.9 L653.7,151.5 L654.9,151.2 L656.0,150.9 L657.2,150.5 L658.3,150.2 L659.5,149.9 L660.6,149.5 L661.8,149.2 L662.9,148.9 L664.1,148.6 L665.2,148.4 L666.4,148.1 L667.6,147.8 L668.7,147.5 L669.9,147.3 L671.1,147.0 L672.3,146.8 L673.4,146.5 L674.6,146.3 L675.8,146.1 L677.0,145.9 L678.1,145.7 L679.3,145.5 L680.5,145.3 L681.7,145.1 L682.9,144.9 L684.1,144.7 L685.2,144.6 L686.4,144.4 L687.6,144.3 L688.8,144.1 L690.0,144.0 L691.2,143.9 L692.4,143.7 L693.6,143.6 L694.8,143.5 L696.0,143.4 L697.2,143.3 L698.4,143.3 L699.6,143.2 L700.8,143.1 L702.0,143.0 L703.2,143.0 L704.4,142.9 L705.6,142.9 L706.8,142.9 L708.0,142.8 L709.2,142.8 L710.4,142.8 L711.6,142.8 L712.8,142.8 L714.0,142.8 L715.2,142.8 L716.4,142.9 L717.6,142.9 L718.8,142.9 L720.0,143.0" fill="none" stroke="#bf00bf" stroke-width="1.8" stroke-linejoin="round" stroke-linecap="square"/>
<circle cx="428.86" cy="315.58" r="3.35" fill="#bf00bf" stroke="#bf00bf" stroke-width="1.05"/>
<circle cx="443.60" cy="284.26" r="3.35" fill="#bf00bf" stroke="#bf00bf" stroke-width="1.05"/>
<circle cx="456.07" cy="263.52" r="3.35" fill="#bf00bf" stroke="#bf00bf" stroke-width="1.05"/>
<circle cx="472.47" cy="242.81" r="3.35" fill="#bf00bf" stroke="#bf00bf" stroke-width="1.05"/>
<circle cx="492.95" cy="224.63" r="3.35" fill="#bf00bf" stroke="#bf00bf" stroke-width="1.05"/>
<circle cx="515.28" cy="210.97" r="3.35" fill="#bf00bf" stroke="#bf00bf" stroke-width="1.05"/>
<circle cx="539.51" cy="200.65" r="3.35" fill="#bf00bf" stroke="#bf00bf" stroke-width="1.05"/>
<circle cx="565.31" cy="190.92" r="3.35" fill="#bf00bf" stroke="#bf00bf" stroke-width="1.05"/>
<circle cx="589.58" cy="180.79" r="3.35" fill="#bf00bf" stroke="#bf00bf" stroke-width="1.05"/>
<circle cx="614.23" cy="168.48" r="3.35" fill="#bf00bf" stroke="#bf00bf" stroke-width="1.05"/>
<circle cx="639.11" cy="156.78" r="3.35" fill="#bf00bf" stroke="#bf00bf" stroke-width="1.05"/>
<circle cx="664.08" cy="148.64" r="3.35" fill="#bf00bf" stroke="#bf00bf" stroke-width="1.05"/>
<circle cx="690.01" cy="143.99" r="3.35" fill="#bf00bf" stroke="#bf00bf" stroke-width="1.05"/>
<path d="M397.2,297.0 L397.2,236.0 L397.4,234.8 L397.6,233.6 L397.8,232.5 L398.1,231.3 L398.3,230.1 L398.6,228.9 L398.8,227.8 L399.1,226.6 L399.3,225.4 L399.6,224.2 L399.9,223.1 L400.1,221.9 L400.4,220.7 L400.7,219.6 L401.0,218.4 L401.3,217.2 L401.5,216.1 L401.8,214.9 L402.1,213.8 L402.5,212.6 L402.8,211.4 L403.1,210.3 L403.4,209.1 L403.7,208.0 L404.1,206.8 L404.4,205.7 L404.7,204.5 L405.1,203.4 L405.4,202.2 L405.8,201.1 L406.1,200.0 L406.5,198.8 L406.8,197.7 L407.2,196.6 L407.6,195.4 L408.0,194.3 L408.4,193.2 L408.7,192.0 L409.1,190.9 L409.5,189.8 L409.9,188.7 L410.4,187.5 L410.8,186.4 L411.2,185.3 L411.6,184.2 L412.0,183.1 L412.5,182.0 L412.9,180.8 L413.3,179.7 L413.8,178.6 L414.2,177.5 L414.7,176.4 L415.2,175.3 L415.6,174.2 L416.1,173.1 L416.6,172.0 L417.1,170.9 L417.6,169.8 L418.0,168.8 L418.5,167.7 L419.0,166.6 L419.6,165.5 L420.1,164.4 L420.6,163.4 L421.1,162.3 L421.6,161.2 L422.2,160.1 L422.7,159.1 L423.3,158.0 L423.8,156.9 L424.4,155.9 L424.9,154.8 L425.5,153.8 L426.1,152.7 L426.6,151.7 L427.2,150.6 L427.8,149.6 L428.4,148.5 L429.0,147.5 L429.6,146.4 L430.2,145.4 L430.8,144.4 L431.4,143.3 L432.1,142.3 L432.7,141.3 L433.3,140.2 L434.0,139.2 L434.6,138.2 L435.3,137.2 L435.9,136.2 L436.6,135.2 L437.2,134.2 L437.9,133.1 L438.6,132.1 L439.3,131.2 L440.0,130.2 L440.7,129.2 L441.4,128.2 L442.1,127.2 L442.8,126.2 L443.5,125.2 L444.2,124.3 L445.0,123.3 L445.7,122.3 L446.4,121.4 L447.2,120.4 L447.9,119.5 L448.7,118.5 L449.4,117.6 L450.2,116.7 L451.0,115.7 L451.7,114.8 L452.5,113.9 L453.3,113.0 L454.1,112.0 L454.9,111.1 L455.7,110.2 L456.5,109.3 L457.3,108.5 L458.1,107.6 L459.0,106.7 L459.8,105.8 L460.6,105.0 L461.5,104.1 L462.3,103.2 L463.2,102.4 L464.0,101.5 L464.9,100.7 L465.7,99.9 L466.6,99.1 L467.5,98.2 L468.4,97.4 L469.3,96.6 L470.1,95.8 L471.0,95.0 L471.9,94.3 L472.9,93.5 L473.8,92.7 L474.7,92.0 L475.6,91.2 L476.5,90.5 L477.5,89.7 L478.4,89.0 L479.3,88.3 L480.3,87.5 L481.3,86.8 L482.2,86.1 L483.2,85.4 L484.1,84.8 L485.1,84.1 L486.1,83.4 L487.1,82.8 L488.1,82.1 L489.1,81.5 L490.1,80.8 L491.1,80.2 L492.1,79.6 L493.1,79.0 L494.1,78.4 L495.1,77.8 L496.2,77.2 L497.2,76.7 L498.3,76.1 L499.3,75.6 L500.4,75.0 L501.4,74.5 L502.5,74.0 L503.5,73.5 L504.6,73.0 L505.7,72.5 L506.8,72.0 L507.8,71.5 L508.9,71.1 L510.0,70.6 L511.1,70.2 L512.2,69.7 L513.4,69.3 L514.5,68.9 L515.6,68.5 L516.7,68.1 L517.8,67.7 L519.0,67.3 L520.1,67.0 L521.2,66.6 L522.4,66.3 L523.5,65.9 L524.7,65.6 L525.8,65.3 L527.0,64.9 L528.1,64.6 L529.3,64.3 L530.5,64.0 L531.6,63.7 L532.8,63.4 L534.0,63.1 L535.2,62.9 L536.3,62.6 L537.5,62.3 L538.7,62.1 L539.9,61.8 L541.1,61.6 L542.2,61.3 L543.4,61.1 L544.6,60.8 L545.8,60.6 L547.0,60.3 L548.2,60.1 L549.4,59.9 L550.6,59.7 L551.7,59.4 L552.9,59.2 L554.1,59.0 L555.3,58.8 L556.5,58.6 L557.7,58.4 L558.9,58.2 L560.1,57.9 L561.3,57.7 L562.5,57.5 L563.7,57.3 L564.9,57.1 L566.0,56.9 L567.2,56.7 L568.4,56.5 L569.6,56.3 L570.8,56.1 L572.0,55.9 L573.2,55.7 L574.4,55.5 L575.5,55.3 L576.7,55.1 L577.9,54.9 L579.1,54.7 L580.3,54.5 L581.5,54.4 L582.7,54.2 L583.8,54.0 L585.0,53.8 L586.2,53.6 L587.4,53.4 L588.6,53.3 L589.8,53.1 L590.9,52.9 L592.1,52.7 L593.3,52.6 L594.5,52.4 L595.7,52.2 L596.9,52.1 L598.0,51.9 L599.2,51.7 L600.4,51.6 L601.6,51.4 L602.8,51.2 L604.0,51.1 L605.1,50.9 L606.3,50.8 L607.5,50.6 L608.7,50.5 L609.9,50.4 L611.1,50.2 L612.3,50.1 L613.4,49.9 L614.6,49.8 L615.8,49.7 L617.0,49.5 L618.2,49.4 L619.4,49.3 L620.6,49.2 L621.7,49.0 L622.9,48.9 L624.1,48.8 L625.3,48.7 L626.5,48.6 L627.7,48.5 L628.9,48.4 L630.1,48.3 L631.3,48.2 L632.4,48.1 L633.6,48.0 L634.8,47.9 L636.0,47.8 L637.2,47.7 L638.4,47.6 L639.6,47.5 L640.8,47.4 L642.0,47.4 L643.2,47.3 L644.4,47.2 L645.5,47.1 L646.7,47.0 L647.9,47.0 L649.1,46.9 L650.3,46.8 L651.5,46.8 L652.7,46.7 L653.9,46.7 L655.1,46.6 L656.3,46.5 L657.5,46.5 L658.7,46.4 L659.9,46.4 L661.1,46.4 L662.3,46.3 L663.5,46.3 L664.7,46.2 L665.9,46.2 L667.0,46.2 L668.2,46.1 L669.4,46.1 L670.6,46.1 L671.8,46.0 L673.0,46.0 L674.2,46.0 L675.4,46.0 L676.6,46.0 L677.8,45.9 L679.0,45.9 L680.2,45.9 L681.4,45.9 L682.6,45.9 L683.8,45.9 L685.0,45.9 L686.2,45.9 L687.4,45.9 L688.6,45.9 L689.8,45.9 L691.0,45.9 L692.2,45.9 L693.4,45.9 L694.6,45.9 L695.8,45.9 L697.0,46.0 L698.2,46.0 L699.4,46.0 L700.6,46.0 L701.8,46.0 L703.0,46.1 L704.2,46.1 L705.4,46.1 L706.6,46.2 L707.8,46.2 L709.0,46.2 L710.2,46.3 L711.4,46.3 L712.6,46.4 L713.8,46.4 L715.0,46.4 L716.2,46.5" fill="none" stroke="#bf00bf" stroke-width="1.8" stroke-linejoin="round" stroke-linecap="butt" stroke-dasharray="6.3 2.5"/>
<circle cx="397.00" cy="295.30" r="3.35" fill="#bf00bf" stroke="#bf00bf" stroke-width="1.05"/>
<circle cx="397.20" cy="267.00" r="3.35" fill="#bf00bf" stroke="#bf00bf" stroke-width="1.05"/>
<circle cx="397.40" cy="243.00" r="3.35" fill="#bf00bf" stroke="#bf00bf" stroke-width="1.05"/>
<circle cx="400.96" cy="218.40" r="3.35" fill="#bf00bf" stroke="#bf00bf" stroke-width="1.05"/>
<circle cx="408.75" cy="192.03" r="3.35" fill="#bf00bf" stroke="#bf00bf" stroke-width="1.05"/>
<circle cx="418.55" cy="167.67" r="3.35" fill="#bf00bf" stroke="#bf00bf" stroke-width="1.05"/>
<circle cx="432.68" cy="141.27" r="3.35" fill="#bf00bf" stroke="#bf00bf" stroke-width="1.05"/>
<circle cx="447.91" cy="119.48" r="3.35" fill="#bf00bf" stroke="#bf00bf" stroke-width="1.05"/>
<circle cx="464.01" cy="101.55" r="3.35" fill="#bf00bf" stroke="#bf00bf" stroke-width="1.05"/>
<circle cx="484.14" cy="84.77" r="3.35" fill="#bf00bf" stroke="#bf00bf" stroke-width="1.05"/>
<circle cx="508.94" cy="71.05" r="3.35" fill="#bf00bf" stroke="#bf00bf" stroke-width="1.05"/>
<circle cx="535.15" cy="62.87" r="3.35" fill="#bf00bf" stroke="#bf00bf" stroke-width="1.05"/>
<circle cx="560.09" cy="57.94" r="3.35" fill="#bf00bf" stroke="#bf00bf" stroke-width="1.05"/>
<circle cx="587.39" cy="53.44" r="3.35" fill="#bf00bf" stroke="#bf00bf" stroke-width="1.05"/>
<circle cx="613.44" cy="49.94" r="3.35" fill="#bf00bf" stroke="#bf00bf" stroke-width="1.05"/>
<circle cx="640.78" cy="47.43" r="3.35" fill="#bf00bf" stroke="#bf00bf" stroke-width="1.05"/>
<circle cx="667.05" cy="46.16" r="3.35" fill="#bf00bf" stroke="#bf00bf" stroke-width="1.05"/>
<circle cx="694.61" cy="45.92" r="3.35" fill="#bf00bf" stroke="#bf00bf" stroke-width="1.05"/>
<path d="M462.1,319.9 L462.6,318.9 L463.1,317.8 L463.5,316.7 L464.0,315.7 L464.5,314.6 L465.0,313.5 L465.5,312.5 L466.0,311.4 L466.5,310.4 L467.0,309.3 L467.5,308.2 L468.1,307.2 L468.6,306.1 L469.1,305.1 L469.7,304.0 L470.2,303.0 L470.8,301.9 L471.3,300.8 L471.9,299.8 L472.5,298.8 L473.0,297.7 L473.6,296.7 L474.2,295.6 L474.8,294.6 L475.4,293.5 L476.0,292.5 L476.6,291.5 L477.2,290.4 L477.8,289.4 L478.5,288.4 L479.1,287.3 L479.7,286.3 L480.4,285.3 L481.0,284.3 L481.7,283.3 L482.3,282.2 L483.0,281.2 L483.7,280.2 L484.3,279.2 L485.0,278.2 L485.7,277.2 L486.4,276.2 L487.1,275.2 L487.8,274.2 L488.5,273.2 L489.2,272.3 L489.9,271.3 L490.6,270.3 L491.4,269.3 L492.1,268.4 L492.8,267.4 L493.6,266.5 L494.3,265.5 L495.1,264.5 L495.8,263.6 L496.6,262.7 L497.4,261.7 L498.1,260.8 L498.9,259.9 L499.7,258.9 L500.5,258.0 L501.3,257.1 L502.1,256.2 L502.9,255.3 L503.7,254.4 L504.5,253.5 L505.3,252.6 L506.2,251.7 L507.0,250.8 L507.8,250.0 L508.7,249.1 L509.5,248.2 L510.4,247.4 L511.2,246.5 L512.1,245.7 L512.9,244.8 L513.8,244.0 L514.7,243.2 L515.6,242.4 L516.5,241.5 L517.3,240.7 L518.2,239.9 L519.1,239.1 L520.0,238.4 L520.9,237.6 L521.9,236.8 L522.8,236.0 L523.7,235.3 L524.6,234.5 L525.6,233.8 L526.5,233.0 L527.4,232.3 L528.4,231.6 L529.3,230.8 L530.3,230.1 L531.3,229.4 L532.2,228.7 L533.2,228.0 L534.2,227.4 L535.2,226.7 L536.1,226.0 L537.1,225.4 L538.1,224.7 L539.1,224.1 L540.1,223.5 L541.1,222.8 L542.1,222.2 L543.2,221.6 L544.2,221.0 L545.2,220.4 L546.2,219.8 L547.3,219.3 L548.3,218.7 L549.4,218.1 L550.4,217.6 L551.5,217.1 L552.5,216.5 L553.6,216.0 L554.6,215.5 L555.7,215.0 L556.8,214.5 L557.9,214.0 L559.0,213.6 L560.0,213.1 L561.1,212.7 L562.2,212.2 L563.3,211.8 L564.4,211.4 L565.6,211.0 L566.7,210.6 L567.8,210.2 L568.9,209.8 L570.0,209.4 L571.2,209.1 L572.3,208.7 L573.5,208.4 L574.6,208.1 L575.7,207.7 L576.9,207.4 L578.1,207.1 L579.2,206.9 L580.4,206.6 L581.6,206.3 L582.7,206.1 L583.9,205.8 L585.1,205.6 L586.3,205.4 L587.4,205.1 L588.6,204.9 L589.8,204.7 L591.0,204.5 L592.2,204.4 L593.4,204.2 L594.6,204.0 L595.8,203.8 L597.0,203.7 L598.2,203.5 L599.4,203.3 L600.6,203.2 L601.9,203.1 L603.1,202.9 L604.3,202.8 L605.5,202.6 L606.7,202.5 L607.9,202.4 L609.1,202.3 L610.3,202.1 L611.6,202.0 L612.8,201.9 L614.0,201.8 L615.2,201.6 L616.4,201.5 L617.6,201.4 L618.8,201.3 L620.0,201.2 L621.2,201.0 L622.4,200.9 L623.6,200.8 L624.8,200.7 L626.0,200.5 L627.2,200.4 L628.4,200.3 L629.6,200.1 L630.8,200.0 L632.0,199.8 L633.2,199.7 L634.4,199.5 L635.6,199.4 L636.8,199.2 L637.9,199.0 L639.1,198.9 L640.3,198.7 L641.5,198.6 L642.6,198.4 L643.8,198.2 L645.0,198.1 L646.2,197.9 L647.3,197.7 L648.5,197.6 L649.7,197.4 L650.8,197.2 L652.0,197.1 L653.2,196.9 L654.4,196.7 L655.5,196.6 L656.7,196.4 L657.9,196.3 L659.1,196.1 L660.3,196.0 L661.4,195.9 L662.6,195.7 L663.8,195.6 L665.0,195.5 L666.2,195.3 L667.4,195.2 L668.5,195.1 L669.7,195.0 L670.9,194.9 L672.1,194.7 L673.3,194.6 L674.5,194.5 L675.7,194.4 L676.9,194.3 L678.1,194.2 L679.3,194.1 L680.5,194.0 L681.7,193.9 L682.9,193.8 L684.1,193.7 L685.3,193.7 L686.4,193.6 L687.6,193.5 L688.8,193.4 L690.0,193.3 L691.2,193.2 L692.4,193.2 L693.6,193.1 L694.8,193.0 L696.0,192.9 L697.2,192.9 L698.4,192.8 L699.6,192.7 L700.8,192.7 L702.0,192.6 L703.2,192.6 L704.4,192.5 L705.6,192.4 L706.8,192.4 L708.0,192.3 L709.2,192.3 L710.4,192.2 L711.6,192.1 L712.8,192.1 L714.0,192.0 L715.2,192.0 L716.4,191.9 L717.6,191.9 L718.8,191.8 L720.0,191.8" fill="none" stroke="#ff0000" stroke-width="1.8" stroke-linejoin="round" stroke-linecap="square"/>
<path d="M460.67,315.66 A3.35,3.35 0 0 0 467.37,315.66 Z" fill="#ff0000"/><circle cx="464.02" cy="315.66" r="3.35" fill="none" stroke="#ff0000" stroke-width="1.05"/>
<path d="M473.26,291.46 A3.35,3.35 0 0 0 479.96,291.46 Z" fill="#ff0000"/><circle cx="476.61" cy="291.46" r="3.35" fill="none" stroke="#ff0000" stroke-width="1.05"/>
<path d="M488.02,269.34 A3.35,3.35 0 0 0 494.72,269.34 Z" fill="#ff0000"/><circle cx="491.37" cy="269.34" r="3.35" fill="none" stroke="#ff0000" stroke-width="1.05"/>
<path d="M505.32,249.09 A3.35,3.35 0 0 0 512.02,249.09 Z" fill="#ff0000"/><circle cx="508.67" cy="249.09" r="3.35" fill="none" stroke="#ff0000" stroke-width="1.05"/>
<path d="M525.99,230.85 A3.35,3.35 0 0 0 532.69,230.85 Z" fill="#ff0000"/><circle cx="529.34" cy="230.85" r="3.35" fill="none" stroke="#ff0000" stroke-width="1.05"/>
<path d="M549.17,216.54 A3.35,3.35 0 0 0 555.87,216.54 Z" fill="#ff0000"/><circle cx="552.52" cy="216.54" r="3.35" fill="none" stroke="#ff0000" stroke-width="1.05"/>
<path d="M573.55,207.44 A3.35,3.35 0 0 0 580.25,207.44 Z" fill="#ff0000"/><circle cx="576.90" cy="207.44" r="3.35" fill="none" stroke="#ff0000" stroke-width="1.05"/>
<path d="M599.71,202.91 A3.35,3.35 0 0 0 606.41,202.91 Z" fill="#ff0000"/><circle cx="603.06" cy="202.91" r="3.35" fill="none" stroke="#ff0000" stroke-width="1.05"/>
<path d="M626.29,200.12 A3.35,3.35 0 0 0 632.99,200.12 Z" fill="#ff0000"/><circle cx="629.64" cy="200.12" r="3.35" fill="none" stroke="#ff0000" stroke-width="1.05"/>
<path d="M653.37,196.44 A3.35,3.35 0 0 0 660.07,196.44 Z" fill="#ff0000"/><circle cx="656.72" cy="196.44" r="3.35" fill="none" stroke="#ff0000" stroke-width="1.05"/>
<path d="M679.51,193.83 A3.35,3.35 0 0 0 686.21,193.83 Z" fill="#ff0000"/><circle cx="682.86" cy="193.83" r="3.35" fill="none" stroke="#ff0000" stroke-width="1.05"/>
<path d="M707.09,192.20 A3.35,3.35 0 0 0 713.79,192.20 Z" fill="#ff0000"/><circle cx="710.44" cy="192.20" r="3.35" fill="none" stroke="#ff0000" stroke-width="1.05"/>
<path d="M410.5,320.1 L410.7,318.9 L410.9,317.6 L411.1,316.5 L411.4,315.3 L411.6,314.1 L411.8,312.9 L412.0,311.7 L412.3,310.5 L412.5,309.3 L412.8,308.1 L413.0,306.9 L413.3,305.7 L413.5,304.5 L413.8,303.4 L414.0,302.2 L414.3,301.0 L414.5,299.8 L414.8,298.6 L415.0,297.5 L415.3,296.3 L415.6,295.1 L415.8,293.9 L416.1,292.8 L416.4,291.6 L416.7,290.4 L416.9,289.3 L417.2,288.1 L417.5,286.9 L417.8,285.8 L418.1,284.6 L418.3,283.5 L418.6,282.3 L418.9,281.1 L419.2,280.0 L419.5,278.8 L419.8,277.7 L420.1,276.5 L420.4,275.4 L420.7,274.2 L421.0,273.0 L421.4,271.9 L421.7,270.7 L422.0,269.6 L422.3,268.4 L422.6,267.3 L422.9,266.2 L423.3,265.0 L423.6,263.9 L423.9,262.7 L424.3,261.6 L424.6,260.4 L424.9,259.3 L425.3,258.2 L425.6,257.0 L426.0,255.9 L426.3,254.7 L426.6,253.6 L427.0,252.5 L427.4,251.3 L427.7,250.2 L428.1,249.1 L428.4,247.9 L428.8,246.8 L429.1,245.7 L429.5,244.5 L429.9,243.4 L430.3,242.3 L430.6,241.1 L431.0,240.0 L431.4,238.9 L431.8,237.7 L432.1,236.6 L432.5,235.5 L432.9,234.4 L433.3,233.2 L433.7,232.1 L434.1,231.0 L434.5,229.9 L434.9,228.7 L435.3,227.6 L435.7,226.5 L436.1,225.4 L436.5,224.2 L436.9,223.1 L437.3,222.0 L437.8,220.9 L438.2,219.7 L438.6,218.6 L439.0,217.5 L439.4,216.4 L439.9,215.3 L440.3,214.1 L440.7,213.0 L441.2,211.9 L441.6,210.8 L442.1,209.6 L442.5,208.5 L442.9,207.4 L443.4,206.3 L443.8,205.2 L444.3,204.0 L444.7,202.9 L445.2,201.8 L445.7,200.7 L446.1,199.6 L446.6,198.4 L447.1,197.3 L447.5,196.2 L448.0,195.1 L448.5,194.0 L449.0,192.9 L449.4,191.8 L449.9,190.7 L450.4,189.5 L450.9,188.4 L451.4,187.3 L451.9,186.2 L452.4,185.1 L452.9,184.0 L453.4,182.9 L454.0,181.8 L454.5,180.7 L455.0,179.6 L455.5,178.5 L456.0,177.4 L456.6,176.3 L457.1,175.3 L457.6,174.2 L458.2,173.1 L458.7,172.0 L459.3,170.9 L459.8,169.9 L460.4,168.8 L461.0,167.7 L461.5,166.6 L462.1,165.6 L462.7,164.5 L463.2,163.4 L463.8,162.4 L464.4,161.3 L465.0,160.3 L465.6,159.2 L466.2,158.2 L466.8,157.1 L467.4,156.1 L468.0,155.1 L468.6,154.0 L469.3,153.0 L469.9,152.0 L470.5,150.9 L471.2,149.9 L471.8,148.9 L472.5,147.9 L473.1,146.9 L473.8,145.9 L474.4,144.9 L475.1,143.9 L475.8,142.9 L476.4,141.9 L477.1,140.9 L477.8,139.9 L478.5,138.9 L479.2,138.0 L479.9,137.0 L480.6,136.0 L481.3,135.1 L482.0,134.1 L482.7,133.2 L483.5,132.2 L484.2,131.3 L484.9,130.3 L485.7,129.4 L486.4,128.5 L487.2,127.6 L488.0,126.7 L488.7,125.7 L489.5,124.8 L490.3,123.9 L491.1,123.0 L491.9,122.1 L492.7,121.3 L493.5,120.4 L494.3,119.5 L495.1,118.6 L495.9,117.8 L496.7,116.9 L497.6,116.1 L498.4,115.2 L499.3,114.4 L500.1,113.5 L501.0,112.7 L501.8,111.9 L502.7,111.1 L503.6,110.3 L504.5,109.5 L505.4,108.7 L506.3,107.9 L507.2,107.1 L508.1,106.3 L509.0,105.6 L509.9,104.8 L510.8,104.0 L511.8,103.3 L512.7,102.5 L513.6,101.8 L514.6,101.1 L515.6,100.4 L516.5,99.6 L517.5,98.9 L518.4,98.2 L519.4,97.5 L520.4,96.8 L521.4,96.2 L522.4,95.5 L523.4,94.8 L524.4,94.2 L525.4,93.5 L526.4,92.9 L527.4,92.2 L528.4,91.6 L529.5,91.0 L530.5,90.4 L531.5,89.8 L532.6,89.2 L533.6,88.6 L534.7,88.0 L535.7,87.4 L536.8,86.8 L537.8,86.3 L538.9,85.7 L540.0,85.2 L541.0,84.7 L542.1,84.1 L543.2,83.6 L544.3,83.1 L545.4,82.6 L546.5,82.1 L547.5,81.6 L548.6,81.2 L549.7,80.7 L550.9,80.2 L552.0,79.8 L553.1,79.3 L554.2,78.9 L555.3,78.5 L556.4,78.1 L557.6,77.7 L558.7,77.3 L559.8,76.9 L561.0,76.5 L562.1,76.1 L563.2,75.8 L564.4,75.4 L565.5,75.1 L566.7,74.7 L567.8,74.4 L569.0,74.1 L570.1,73.8 L571.3,73.5 L572.5,73.2 L573.6,72.9 L574.8,72.7 L576.0,72.4 L577.1,72.2 L578.3,71.9 L579.5,71.7 L580.7,71.5 L581.8,71.3 L583.0,71.1 L584.2,70.8 L585.4,70.7 L586.6,70.5 L587.7,70.3 L588.9,70.1 L590.1,70.0 L591.3,69.8 L592.5,69.6 L593.7,69.5 L594.9,69.4 L596.1,69.2 L597.3,69.1 L598.5,69.0 L599.7,68.9 L600.9,68.8 L602.1,68.7 L603.3,68.6 L604.5,68.5 L605.7,68.4 L606.9,68.3 L608.1,68.2 L609.3,68.1 L610.5,68.1 L611.7,68.0 L612.9,67.9 L614.1,67.9 L615.3,67.8 L616.6,67.8 L617.8,67.7 L619.0,67.7 L620.2,67.6 L621.4,67.6 L622.6,67.5 L623.8,67.5 L625.0,67.5 L626.2,67.4 L627.4,67.4 L628.6,67.4 L629.8,67.4 L631.0,67.3 L632.2,67.3 L633.4,67.3 L634.6,67.3 L635.9,67.3 L637.1,67.2 L638.3,67.2 L639.5,67.2 L640.7,67.2 L641.9,67.2 L643.1,67.2 L644.3,67.2 L645.5,67.2 L646.7,67.2 L647.9,67.2 L649.1,67.2 L650.3,67.2 L651.5,67.2 L652.7,67.2 L653.9,67.2 L655.1,67.2 L656.3,67.2 L657.5,67.2 L658.7,67.2 L659.9,67.2 L661.1,67.2 L662.3,67.2 L663.5,67.2 L664.7,67.2 L665.9,67.2 L667.1,67.2 L668.3,67.2 L669.5,67.3 L670.7,67.3 L671.9,67.3 L673.1,67.3 L674.3,67.3 L675.5,67.3 L676.7,67.3 L677.9,67.3 L679.1,67.3 L680.3,67.3 L681.5,67.3 L682.7,67.3 L683.9,67.3 L685.1,67.3 L686.3,67.3 L687.5,67.3 L688.7,67.3 L689.9,67.3 L691.1,67.3 L692.2,67.3 L693.4,67.3 L694.6,67.3 L695.8,67.3 L697.0,67.2 L698.2,67.2 L699.4,67.2 L700.6,67.2 L701.8,67.2 L703.0,67.2 L704.2,67.1 L705.4,67.1 L706.6,67.1 L707.8,67.1 L709.0,67.0 L710.2,67.0 L711.4,67.0 L712.6,66.9 L713.8,66.9 L715.0,66.9 L716.2,66.8" fill="none" stroke="#ff0000" stroke-width="1.8" stroke-linejoin="round" stroke-linecap="butt" stroke-dasharray="6.3 2.5"/>
<path d="M409.42,308.10 A3.35,3.35 0 0 0 416.12,308.10 Z" fill="#ff0000"/><circle cx="412.77" cy="308.10" r="3.35" fill="none" stroke="#ff0000" stroke-width="1.05"/>
<path d="M415.29,282.29 A3.35,3.35 0 0 0 421.99,282.29 Z" fill="#ff0000"/><circle cx="418.64" cy="282.29" r="3.35" fill="none" stroke="#ff0000" stroke-width="1.05"/>
<path d="M423.30,253.60 A3.35,3.35 0 0 0 430.00,253.60 Z" fill="#ff0000"/><circle cx="426.65" cy="253.60" r="3.35" fill="none" stroke="#ff0000" stroke-width="1.05"/>
<path d="M429.18,235.49 A3.35,3.35 0 0 0 435.88,235.49 Z" fill="#ff0000"/><circle cx="432.53" cy="235.49" r="3.35" fill="none" stroke="#ff0000" stroke-width="1.05"/>
<path d="M438.70,209.64 A3.35,3.35 0 0 0 445.40,209.64 Z" fill="#ff0000"/><circle cx="442.05" cy="209.64" r="3.35" fill="none" stroke="#ff0000" stroke-width="1.05"/>
<path d="M451.12,180.72 A3.35,3.35 0 0 0 457.82,180.72 Z" fill="#ff0000"/><circle cx="454.47" cy="180.72" r="3.35" fill="none" stroke="#ff0000" stroke-width="1.05"/>
<path d="M464.68,155.05 A3.35,3.35 0 0 0 471.38,155.05 Z" fill="#ff0000"/><circle cx="468.03" cy="155.05" r="3.35" fill="none" stroke="#ff0000" stroke-width="1.05"/>
<path d="M479.39,133.17 A3.35,3.35 0 0 0 486.09,133.17 Z" fill="#ff0000"/><circle cx="482.74" cy="133.17" r="3.35" fill="none" stroke="#ff0000" stroke-width="1.05"/>
<path d="M496.76,113.55 A3.35,3.35 0 0 0 503.46,113.55 Z" fill="#ff0000"/><circle cx="500.11" cy="113.55" r="3.35" fill="none" stroke="#ff0000" stroke-width="1.05"/>
<path d="M518.04,96.16 A3.35,3.35 0 0 0 524.74,96.16 Z" fill="#ff0000"/><circle cx="521.39" cy="96.16" r="3.35" fill="none" stroke="#ff0000" stroke-width="1.05"/>
<path d="M540.92,83.11 A3.35,3.35 0 0 0 547.62,83.11 Z" fill="#ff0000"/><circle cx="544.27" cy="83.11" r="3.35" fill="none" stroke="#ff0000" stroke-width="1.05"/>
<path d="M566.79,73.80 A3.35,3.35 0 0 0 573.49,73.80 Z" fill="#ff0000"/><circle cx="570.14" cy="73.80" r="3.35" fill="none" stroke="#ff0000" stroke-width="1.05"/>
<path d="M592.74,69.23 A3.35,3.35 0 0 0 599.44,69.23 Z" fill="#ff0000"/><circle cx="596.09" cy="69.23" r="3.35" fill="none" stroke="#ff0000" stroke-width="1.05"/>
<path d="M620.45,67.50 A3.35,3.35 0 0 0 627.15,67.50 Z" fill="#ff0000"/><circle cx="623.80" cy="67.50" r="3.35" fill="none" stroke="#ff0000" stroke-width="1.05"/>
<path d="M646.94,67.17 A3.35,3.35 0 0 0 653.64,67.17 Z" fill="#ff0000"/><circle cx="650.29" cy="67.17" r="3.35" fill="none" stroke="#ff0000" stroke-width="1.05"/>
<path d="M673.33,67.29 A3.35,3.35 0 0 0 680.03,67.29 Z" fill="#ff0000"/><circle cx="676.68" cy="67.29" r="3.35" fill="none" stroke="#ff0000" stroke-width="1.05"/>
<path d="M699.66,67.17 A3.35,3.35 0 0 0 706.36,67.17 Z" fill="#ff0000"/><circle cx="703.01" cy="67.17" r="3.35" fill="none" stroke="#ff0000" stroke-width="1.05"/>
</g>
<line x1="403.43" y1="317.30" x2="403.43" y2="319.20" stroke="#000" stroke-width="0.7"/>
<line x1="412.02" y1="317.30" x2="412.02" y2="319.20" stroke="#000" stroke-width="0.7"/>
<line x1="418.69" y1="317.30" x2="418.69" y2="319.20" stroke="#000" stroke-width="0.7"/>
<line x1="424.14" y1="317.30" x2="424.14" y2="319.20" stroke="#000" stroke-width="0.7"/>
<line x1="428.74" y1="317.30" x2="428.74" y2="319.20" stroke="#000" stroke-width="0.7"/>
<line x1="432.73" y1="317.30" x2="432.73" y2="319.20" stroke="#000" stroke-width="0.7"/>
<line x1="436.25" y1="317.30" x2="436.25" y2="319.20" stroke="#000" stroke-width="0.7"/>
<line x1="439.40" y1="317.30" x2="439.40" y2="320.50" stroke="#000" stroke-width="0.9"/>
<line x1="460.11" y1="317.30" x2="460.11" y2="319.20" stroke="#000" stroke-width="0.7"/>
<line x1="472.23" y1="317.30" x2="472.23" y2="319.20" stroke="#000" stroke-width="0.7"/>
<line x1="480.82" y1="317.30" x2="480.82" y2="319.20" stroke="#000" stroke-width="0.7"/>
<line x1="487.49" y1="317.30" x2="487.49" y2="319.20" stroke="#000" stroke-width="0.7"/>
<line x1="492.94" y1="317.30" x2="492.94" y2="319.20" stroke="#000" stroke-width="0.7"/>
<line x1="497.54" y1="317.30" x2="497.54" y2="319.20" stroke="#000" stroke-width="0.7"/>
<line x1="501.53" y1="317.30" x2="501.53" y2="319.20" stroke="#000" stroke-width="0.7"/>
<line x1="505.05" y1="317.30" x2="505.05" y2="319.20" stroke="#000" stroke-width="0.7"/>
<line x1="508.20" y1="317.30" x2="508.20" y2="320.50" stroke="#000" stroke-width="0.9"/>
<line x1="528.91" y1="317.30" x2="528.91" y2="319.20" stroke="#000" stroke-width="0.7"/>
<line x1="541.03" y1="317.30" x2="541.03" y2="319.20" stroke="#000" stroke-width="0.7"/>
<line x1="549.62" y1="317.30" x2="549.62" y2="319.20" stroke="#000" stroke-width="0.7"/>
<line x1="556.29" y1="317.30" x2="556.29" y2="319.20" stroke="#000" stroke-width="0.7"/>
<line x1="561.74" y1="317.30" x2="561.74" y2="319.20" stroke="#000" stroke-width="0.7"/>
<line x1="566.34" y1="317.30" x2="566.34" y2="319.20" stroke="#000" stroke-width="0.7"/>
<line x1="570.33" y1="317.30" x2="570.33" y2="319.20" stroke="#000" stroke-width="0.7"/>
<line x1="573.85" y1="317.30" x2="573.85" y2="319.20" stroke="#000" stroke-width="0.7"/>
<line x1="577.00" y1="317.30" x2="577.00" y2="320.50" stroke="#000" stroke-width="0.9"/>
<line x1="597.71" y1="317.30" x2="597.71" y2="319.20" stroke="#000" stroke-width="0.7"/>
<line x1="609.83" y1="317.30" x2="609.83" y2="319.20" stroke="#000" stroke-width="0.7"/>
<line x1="618.42" y1="317.30" x2="618.42" y2="319.20" stroke="#000" stroke-width="0.7"/>
<line x1="625.09" y1="317.30" x2="625.09" y2="319.20" stroke="#000" stroke-width="0.7"/>
<line x1="630.54" y1="317.30" x2="630.54" y2="319.20" stroke="#000" stroke-width="0.7"/>
<line x1="635.14" y1="317.30" x2="635.14" y2="319.20" stroke="#000" stroke-width="0.7"/>
<line x1="639.13" y1="317.30" x2="639.13" y2="319.20" stroke="#000" stroke-width="0.7"/>
<line x1="642.65" y1="317.30" x2="642.65" y2="319.20" stroke="#000" stroke-width="0.7"/>
<line x1="645.80" y1="317.30" x2="645.80" y2="320.50" stroke="#000" stroke-width="0.9"/>
<line x1="666.51" y1="317.30" x2="666.51" y2="319.20" stroke="#000" stroke-width="0.7"/>
<line x1="678.63" y1="317.30" x2="678.63" y2="319.20" stroke="#000" stroke-width="0.7"/>
<line x1="687.22" y1="317.30" x2="687.22" y2="319.20" stroke="#000" stroke-width="0.7"/>
<line x1="693.89" y1="317.30" x2="693.89" y2="319.20" stroke="#000" stroke-width="0.7"/>
<line x1="699.34" y1="317.30" x2="699.34" y2="319.20" stroke="#000" stroke-width="0.7"/>
<line x1="703.94" y1="317.30" x2="703.94" y2="319.20" stroke="#000" stroke-width="0.7"/>
<line x1="707.93" y1="317.30" x2="707.93" y2="319.20" stroke="#000" stroke-width="0.7"/>
<line x1="711.45" y1="317.30" x2="711.45" y2="319.20" stroke="#000" stroke-width="0.7"/>
<line x1="714.60" y1="317.30" x2="714.60" y2="320.50" stroke="#000" stroke-width="0.9"/>
<line x1="394.55" y1="317.15" x2="396.45" y2="317.15" stroke="#000" stroke-width="0.7"/>
<line x1="394.55" y1="309.81" x2="396.45" y2="309.81" stroke="#000" stroke-width="0.7"/>
<line x1="394.55" y1="304.60" x2="396.45" y2="304.60" stroke="#000" stroke-width="0.7"/>
<line x1="394.55" y1="300.56" x2="396.45" y2="300.56" stroke="#000" stroke-width="0.7"/>
<line x1="394.55" y1="297.26" x2="396.45" y2="297.26" stroke="#000" stroke-width="0.7"/>
<line x1="394.55" y1="294.47" x2="396.45" y2="294.47" stroke="#000" stroke-width="0.7"/>
<line x1="394.55" y1="292.06" x2="396.45" y2="292.06" stroke="#000" stroke-width="0.7"/>
<line x1="394.55" y1="289.93" x2="396.45" y2="289.93" stroke="#000" stroke-width="0.7"/>
<line x1="393.25" y1="288.02" x2="396.45" y2="288.02" stroke="#000" stroke-width="0.9"/>
<line x1="394.55" y1="275.48" x2="396.45" y2="275.48" stroke="#000" stroke-width="0.7"/>
<line x1="394.55" y1="268.14" x2="396.45" y2="268.14" stroke="#000" stroke-width="0.7"/>
<line x1="394.55" y1="262.93" x2="396.45" y2="262.93" stroke="#000" stroke-width="0.7"/>
<line x1="394.55" y1="258.89" x2="396.45" y2="258.89" stroke="#000" stroke-width="0.7"/>
<line x1="394.55" y1="255.59" x2="396.45" y2="255.59" stroke="#000" stroke-width="0.7"/>
<line x1="394.55" y1="252.80" x2="396.45" y2="252.80" stroke="#000" stroke-width="0.7"/>
<line x1="394.55" y1="250.39" x2="396.45" y2="250.39" stroke="#000" stroke-width="0.7"/>
<line x1="394.55" y1="248.26" x2="396.45" y2="248.26" stroke="#000" stroke-width="0.7"/>
<line x1="393.25" y1="246.35" x2="396.45" y2="246.35" stroke="#000" stroke-width="0.9"/>
<line x1="394.55" y1="233.81" x2="396.45" y2="233.81" stroke="#000" stroke-width="0.7"/>
<line x1="394.55" y1="226.47" x2="396.45" y2="226.47" stroke="#000" stroke-width="0.7"/>
<line x1="394.55" y1="221.26" x2="396.45" y2="221.26" stroke="#000" stroke-width="0.7"/>
<line x1="394.55" y1="217.22" x2="396.45" y2="217.22" stroke="#000" stroke-width="0.7"/>
<line x1="394.55" y1="213.92" x2="396.45" y2="213.92" stroke="#000" stroke-width="0.7"/>
<line x1="394.55" y1="211.13" x2="396.45" y2="211.13" stroke="#000" stroke-width="0.7"/>
<line x1="394.55" y1="208.72" x2="396.45" y2="208.72" stroke="#000" stroke-width="0.7"/>
<line x1="394.55" y1="206.59" x2="396.45" y2="206.59" stroke="#000" stroke-width="0.7"/>
<line x1="393.25" y1="204.68" x2="396.45" y2="204.68" stroke="#000" stroke-width="0.9"/>
<line x1="394.55" y1="192.14" x2="396.45" y2="192.14" stroke="#000" stroke-width="0.7"/>
<line x1="394.55" y1="184.80" x2="396.45" y2="184.80" stroke="#000" stroke-width="0.7"/>
<line x1="394.55" y1="179.59" x2="396.45" y2="179.59" stroke="#000" stroke-width="0.7"/>
<line x1="394.55" y1="175.55" x2="396.45" y2="175.55" stroke="#000" stroke-width="0.7"/>
<line x1="394.55" y1="172.25" x2="396.45" y2="172.25" stroke="#000" stroke-width="0.7"/>
<line x1="394.55" y1="169.46" x2="396.45" y2="169.46" stroke="#000" stroke-width="0.7"/>
<line x1="394.55" y1="167.05" x2="396.45" y2="167.05" stroke="#000" stroke-width="0.7"/>
<line x1="394.55" y1="164.92" x2="396.45" y2="164.92" stroke="#000" stroke-width="0.7"/>
<line x1="393.25" y1="163.01" x2="396.45" y2="163.01" stroke="#000" stroke-width="0.9"/>
<line x1="394.55" y1="150.47" x2="396.45" y2="150.47" stroke="#000" stroke-width="0.7"/>
<line x1="394.55" y1="143.13" x2="396.45" y2="143.13" stroke="#000" stroke-width="0.7"/>
<line x1="394.55" y1="137.92" x2="396.45" y2="137.92" stroke="#000" stroke-width="0.7"/>
<line x1="394.55" y1="133.88" x2="396.45" y2="133.88" stroke="#000" stroke-width="0.7"/>
<line x1="394.55" y1="130.58" x2="396.45" y2="130.58" stroke="#000" stroke-width="0.7"/>
<line x1="394.55" y1="127.79" x2="396.45" y2="127.79" stroke="#000" stroke-width="0.7"/>
<line x1="394.55" y1="125.38" x2="396.45" y2="125.38" stroke="#000" stroke-width="0.7"/>
<line x1="394.55" y1="123.25" x2="396.45" y2="123.25" stroke="#000" stroke-width="0.7"/>
<line x1="393.25" y1="121.34" x2="396.45" y2="121.34" stroke="#000" stroke-width="0.9"/>
<line x1="394.55" y1="108.80" x2="396.45" y2="108.80" stroke="#000" stroke-width="0.7"/>
<line x1="394.55" y1="101.46" x2="396.45" y2="101.46" stroke="#000" stroke-width="0.7"/>
<line x1="394.55" y1="96.25" x2="396.45" y2="96.25" stroke="#000" stroke-width="0.7"/>
<line x1="394.55" y1="92.21" x2="396.45" y2="92.21" stroke="#000" stroke-width="0.7"/>
<line x1="394.55" y1="88.91" x2="396.45" y2="88.91" stroke="#000" stroke-width="0.7"/>
<line x1="394.55" y1="86.12" x2="396.45" y2="86.12" stroke="#000" stroke-width="0.7"/>
<line x1="394.55" y1="83.71" x2="396.45" y2="83.71" stroke="#000" stroke-width="0.7"/>
<line x1="394.55" y1="81.58" x2="396.45" y2="81.58" stroke="#000" stroke-width="0.7"/>
<line x1="393.25" y1="79.67" x2="396.45" y2="79.67" stroke="#000" stroke-width="0.9"/>
<line x1="394.55" y1="67.13" x2="396.45" y2="67.13" stroke="#000" stroke-width="0.7"/>
<line x1="394.55" y1="59.79" x2="396.45" y2="59.79" stroke="#000" stroke-width="0.7"/>
<line x1="394.55" y1="54.58" x2="396.45" y2="54.58" stroke="#000" stroke-width="0.7"/>
<line x1="394.55" y1="50.54" x2="396.45" y2="50.54" stroke="#000" stroke-width="0.7"/>
<line x1="394.55" y1="47.24" x2="396.45" y2="47.24" stroke="#000" stroke-width="0.7"/>
<line x1="394.55" y1="44.45" x2="396.45" y2="44.45" stroke="#000" stroke-width="0.7"/>
<line x1="394.55" y1="42.04" x2="396.45" y2="42.04" stroke="#000" stroke-width="0.7"/>
<line x1="394.55" y1="39.91" x2="396.45" y2="39.91" stroke="#000" stroke-width="0.7"/>
<line x1="393.25" y1="38.00" x2="396.45" y2="38.00" stroke="#000" stroke-width="0.9"/>
<line x1="394.55" y1="25.46" x2="396.45" y2="25.46" stroke="#000" stroke-width="0.7"/>
<line x1="394.55" y1="18.12" x2="396.45" y2="18.12" stroke="#000" stroke-width="0.7"/>
<line x1="394.55" y1="12.91" x2="396.45" y2="12.91" stroke="#000" stroke-width="0.7"/>
<line x1="394.55" y1="8.87" x2="396.45" y2="8.87" stroke="#000" stroke-width="0.7"/>
<line x1="394.55" y1="5.57" x2="396.45" y2="5.57" stroke="#000" stroke-width="0.7"/>
<line x1="394.55" y1="2.78" x2="396.45" y2="2.78" stroke="#000" stroke-width="0.7"/>
<rect x="396.45" y="0.50" width="318.45" height="316.80" fill="none" stroke="#262626" stroke-width="0.95"/>
<text x="0" y="0" font-family="Liberation Sans, sans-serif" font-size="14.20" fill="#000" stroke="#000" stroke-width="0.28" transform="translate(427.71,333.40) scale(1.0665,1)">10</text>
<text x="0" y="0" font-family="Liberation Sans, sans-serif" font-size="9.90" fill="#000" stroke="#000" stroke-width="0.28" transform="translate(444.91,328.30) scale(1.0000,1)">1</text>
<text x="0" y="0" font-family="Liberation Sans, sans-serif" font-size="14.20" fill="#000" stroke="#000" stroke-width="0.28" transform="translate(496.39,333.40) scale(1.0665,1)">10</text>
<text x="0" y="0" font-family="Liberation Sans, sans-serif" font-size="9.90" fill="#000" stroke="#000" stroke-width="0.28" transform="translate(513.85,328.30) scale(1.0000,1)">2</text>
<text x="0" y="0" font-family="Liberation Sans, sans-serif" font-size="14.20" fill="#000" stroke="#000" stroke-width="0.28" transform="translate(565.10,333.40) scale(1.0665,1)">10</text>
<text x="0" y="0" font-family="Liberation Sans, sans-serif" font-size="9.90" fill="#000" stroke="#000" stroke-width="0.28" transform="translate(582.68,328.30) scale(1.0000,1)">3</text>
<text x="0" y="0" font-family="Liberation Sans, sans-serif" font-size="14.20" fill="#000" stroke="#000" stroke-width="0.28" transform="translate(633.75,333.40) scale(1.0665,1)">10</text>
<text x="0" y="0" font-family="Liberation Sans, sans-serif" font-size="9.90" fill="#000" stroke="#000" stroke-width="0.28" transform="translate(651.48,328.30) scale(1.0000,1)">4</text>
<text x="0" y="0" font-family="Liberation Sans, sans-serif" font-size="14.20" fill="#000" stroke="#000" stroke-width="0.28" transform="translate(702.70,333.40) scale(1.0665,1)">10</text>
<text x="0" y="0" font-family="Liberation Sans, sans-serif" font-size="9.90" fill="#000" stroke="#000" stroke-width="0.28" transform="translate(720.26,328.30) scale(1.0000,1)">5</text>
<text x="0" y="0" font-family="Liberation Sans, sans-serif" font-size="15.60" fill="#000" stroke="#000" stroke-width="0.28" transform="translate(403.51,25.50) scale(1.1266,1)">(b)</text>
<text x="0" y="0" font-family="Liberation Sans, sans-serif" font-size="14.20" fill="#000" stroke="#000" stroke-width="0.28" transform="translate(534.54,350.50) scale(1.1238,1)">r (km)</text>
<line x1="601.40" y1="255.30" x2="621.00" y2="255.30" stroke="#0000ff" stroke-width="1.8"/>
<line x1="601.40" y1="270.60" x2="621.00" y2="270.60" stroke="#008000" stroke-width="1.8"/>
<circle cx="611.20" cy="270.60" r="3.35" fill="none" stroke="#008000" stroke-width="1.05"/>
<line x1="601.40" y1="285.60" x2="621.00" y2="285.60" stroke="#bf00bf" stroke-width="1.8"/>
<circle cx="611.20" cy="285.60" r="3.35" fill="#bf00bf" stroke="#bf00bf" stroke-width="1.05"/>
<line x1="601.40" y1="299.90" x2="621.00" y2="299.90" stroke="#ff0000" stroke-width="1.8"/>
<path d="M607.85,299.90 A3.35,3.35 0 0 0 614.55,299.90 Z" fill="#ff0000"/><circle cx="611.20" cy="299.90" r="3.35" fill="none" stroke="#ff0000" stroke-width="1.05"/>
<g transform="translate(633.08,259.00) scale(1.0956,1)" font-family="Liberation Sans, sans-serif" fill="#000" stroke="#000" stroke-width="0.28"><text x="0.00" y="0.00" font-size="11.3">H</text><text x="8.16" y="2.30" font-size="8.0">2</text><text x="12.61" y="0.00" font-size="11.3">COH</text></g>
<text font-family="Liberation Sans, sans-serif" font-size="9.1" fill="#000" stroke="#000" stroke-width="0.28" x="677.16" y="256.10">+</text>
<g transform="translate(633.10,273.80) scale(1.0822,1)" font-family="Liberation Sans, sans-serif" fill="#000" stroke="#000" stroke-width="0.28"><text x="0.00" y="0.00" font-size="11.3">H</text><text x="8.16" y="2.30" font-size="8.0">2</text><text x="12.61" y="0.00" font-size="11.3">CO</text></g>
<text font-family="Liberation Sans, sans-serif" font-size="9.1" fill="#000" stroke="#000" stroke-width="0.28" x="668.16" y="270.60">+</text>
<g transform="translate(632.84,288.60) scale(1.1447,1)" font-family="Liberation Sans, sans-serif" fill="#000" stroke="#000" stroke-width="0.28"><text x="0.00" y="0.00" font-size="11.3">H</text><text x="8.16" y="2.30" font-size="8.0">5</text><text x="12.61" y="0.00" font-size="11.3">C</text><text x="20.77" y="2.30" font-size="8.0">2</text><text x="25.22" y="0.00" font-size="11.3">O</text><text x="34.01" y="2.30" font-size="8.0">2</text></g>
<text font-family="Liberation Sans, sans-serif" font-size="9.1" fill="#000" stroke="#000" stroke-width="0.28" x="679.76" y="286.00">+</text>
<g transform="translate(632.91,303.40) scale(1.0676,1)" font-family="Liberation Sans, sans-serif" fill="#000" stroke="#000" stroke-width="0.28"><text x="0.00" y="0.00" font-size="11.3">HCOOCH</text><text x="50.22" y="2.30" font-size="8.0">3</text></g>
<text x="0" y="0" font-family="Liberation Sans, sans-serif" font-size="14.20" fill="#000" stroke="#000" stroke-width="0.28" transform="translate(24.58,292.82) scale(1.1018,1)">10</text>
<text x="0" y="0" font-family="Liberation Sans, sans-serif" font-size="10.20" fill="#000" stroke="#000" stroke-width="0.28" transform="translate(41.80,287.82) scale(1.0000,1)">18</text>
<text x="0" y="0" font-family="Liberation Sans, sans-serif" font-size="14.20" fill="#000" stroke="#000" stroke-width="0.28" transform="translate(24.62,251.15) scale(1.1018,1)">10</text>
<text x="0" y="0" font-family="Liberation Sans, sans-serif" font-size="10.20" fill="#000" stroke="#000" stroke-width="0.28" transform="translate(41.84,246.15) scale(1.0000,1)">19</text>
<text x="0" y="0" font-family="Liberation Sans, sans-serif" font-size="14.20" fill="#000" stroke="#000" stroke-width="0.28" transform="translate(24.27,209.48) scale(1.1018,1)">10</text>
<text x="0" y="0" font-family="Liberation Sans, sans-serif" font-size="10.20" fill="#000" stroke="#000" stroke-width="0.28" transform="translate(41.75,204.48) scale(1.0000,1)">20</text>
<text x="0" y="0" font-family="Liberation Sans, sans-serif" font-size="14.20" fill="#000" stroke="#000" stroke-width="0.28" transform="translate(24.37,167.81) scale(1.1018,1)">10</text>
<text x="0" y="0" font-family="Liberation Sans, sans-serif" font-size="10.20" fill="#000" stroke="#000" stroke-width="0.28" transform="translate(41.85,162.81) scale(1.0000,1)">21</text>
<text x="0" y="0" font-family="Liberation Sans, sans-serif" font-size="14.20" fill="#000" stroke="#000" stroke-width="0.28" transform="translate(24.39,126.14) scale(1.1018,1)">10</text>
<text x="0" y="0" font-family="Liberation Sans, sans-serif" font-size="10.20" fill="#000" stroke="#000" stroke-width="0.28" transform="translate(41.87,121.14) scale(1.0000,1)">22</text>
<text x="0" y="0" font-family="Liberation Sans, sans-serif" font-size="14.20" fill="#000" stroke="#000" stroke-width="0.28" transform="translate(24.32,84.47) scale(1.1018,1)">10</text>
<text x="0" y="0" font-family="Liberation Sans, sans-serif" font-size="10.20" fill="#000" stroke="#000" stroke-width="0.28" transform="translate(41.80,79.47) scale(1.0000,1)">23</text>
<text x="0" y="0" font-family="Liberation Sans, sans-serif" font-size="14.20" fill="#000" stroke="#000" stroke-width="0.28" transform="translate(24.17,42.80) scale(1.1018,1)">10</text>
<text x="0" y="0" font-family="Liberation Sans, sans-serif" font-size="10.20" fill="#000" stroke="#000" stroke-width="0.28" transform="translate(41.65,37.80) scale(1.0000,1)">24</text>
<g transform="translate(17.3,226.2) rotate(-90) scale(1.0790,1) translate(-1.18,0)" stroke="#000" stroke-width="0.28">
<text font-family="Liberation Sans, sans-serif" font-size="14.4" fill="#000" x="0" y="0">Flux (molecules s</text>
<text font-family="Liberation Sans, sans-serif" font-size="10.0" fill="#000" x="112.53" y="-5.6">−1</text>
<text font-family="Liberation Sans, sans-serif" font-size="14.4" fill="#000" x="124.43" y="0">)</text>
</g>
</svg></div></body></html>
